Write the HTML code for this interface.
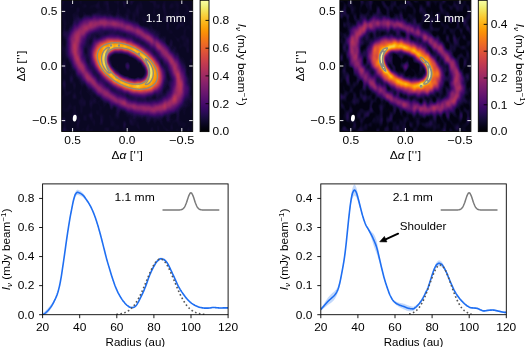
<!DOCTYPE html><html><head><meta charset="utf-8"><title>figure</title><style>html,body{margin:0;padding:0;background:#fff;overflow:hidden}svg{display:block;will-change:transform}text{font-family:"Liberation Sans", sans-serif}</style></head><body>
<svg width="525" height="347" viewBox="0 0 525 347">
<defs>
<filter id="cm0" filterUnits="userSpaceOnUse" x="51.70" y="-9.50" width="151.00" height="151.00" color-interpolation-filters="sRGB">
<feGaussianBlur in="SourceGraphic" stdDeviation="1.60 2.80" result="b"/>
<feTurbulence type="fractalNoise" baseFrequency="0.3 0.22" numOctaves="1" seed="4" result="n"/>
<feColorMatrix in="n" type="matrix" values="1 0 0 0 0 1 0 0 0 0 1 0 0 0 0 0 0 0 0 1" result="ng"/>
<feGaussianBlur in="ng" stdDeviation="1.28 2.24" result="nb"/>
<feComposite in="b" in2="nb" operator="arithmetic" k1="0" k2="2" k3="0.350" k4="-0.275" result="s"/>
<feComponentTransfer in="s"><feFuncR type="table" tableValues="0.0423 0.0516 0.0613 0.0714 0.0874 0.0987 0.1105 0.1229 0.1358 0.1491 0.1627 0.1765 0.1904 0.2111 0.2248 0.2383 0.2516 0.2648 0.2778 0.2908 0.3036 0.3163 0.3352 0.3478 0.3603 0.3728 0.3852 0.3977 0.4101 0.4288 0.4412 0.4599 0.4786 0.4910 0.5097 0.5284 0.5472 0.5596 0.5783 0.5969 0.6093 0.6278 0.6463 0.6585 0.6766 0.6946 0.7065 0.7241 0.7414 0.7584 0.7696 0.7859 0.8019 0.8122 0.8274 0.8420 0.8514 0.8650 0.8780 0.8863 0.8982 0.9094 0.9199 0.9265 0.9357 0.9443 0.9496 0.9569 0.9634 0.9673 0.9726 0.9771 0.9808 0.9829 0.9853 0.9870 0.9876 0.9879 0.9875 0.9867 0.9849 0.9822 0.9800 0.9761 0.9715 0.9662 0.9625 0.9568 0.9515 0.9487 0.9464 0.9479 0.9517 0.9618 0.9765 0.9884"/><feFuncG type="table" tableValues="0.0281 0.0325 0.0366 0.0403 0.0446 0.0464 0.0474 0.0475 0.0469 0.0455 0.0436 0.0414 0.0393 0.0370 0.0364 0.0366 0.0377 0.0396 0.0424 0.0456 0.0494 0.0535 0.0601 0.0646 0.0692 0.0739 0.0786 0.0833 0.0879 0.0948 0.0993 0.1061 0.1128 0.1172 0.1238 0.1303 0.1369 0.1413 0.1480 0.1548 0.1595 0.1666 0.1739 0.1790 0.1868 0.1950 0.2007 0.2097 0.2191 0.2291 0.2361 0.2471 0.2587 0.2668 0.2795 0.2929 0.3023 0.3168 0.3321 0.3426 0.3589 0.3759 0.3934 0.4054 0.4238 0.4428 0.4557 0.4754 0.4955 0.5091 0.5298 0.5508 0.5722 0.5866 0.6084 0.6305 0.6453 0.6677 0.6904 0.7055 0.7284 0.7514 0.7668 0.7900 0.8131 0.8362 0.8515 0.8741 0.8962 0.9105 0.9308 0.9493 0.9606 0.9759 0.9898 0.9984"/><feFuncB type="table" tableValues="0.1411 0.1593 0.1776 0.1964 0.2248 0.2439 0.2629 0.2816 0.2998 0.3171 0.3333 0.3481 0.3614 0.3786 0.3881 0.3964 0.4034 0.4093 0.4144 0.4186 0.4222 0.4251 0.4285 0.4302 0.4315 0.4324 0.4330 0.4332 0.4331 0.4324 0.4316 0.4298 0.4275 0.4256 0.4222 0.4181 0.4135 0.4101 0.4044 0.3981 0.3936 0.3863 0.3784 0.3727 0.3638 0.3544 0.3478 0.3374 0.3266 0.3153 0.3075 0.2955 0.2831 0.2747 0.2617 0.2486 0.2396 0.2261 0.2123 0.2030 0.1889 0.1746 0.1601 0.1503 0.1354 0.1204 0.1102 0.0947 0.0791 0.0687 0.0533 0.0391 0.0285 0.0247 0.0242 0.0309 0.0399 0.0583 0.0800 0.0957 0.1208 0.1476 0.1664 0.1960 0.2277 0.2615 0.2855 0.3240 0.3656 0.3953 0.4424 0.4914 0.5242 0.5719 0.6168 0.6449"/></feComponentTransfer>
</filter>
<clipPath id="ic0"><rect x="61.70" y="0.50" width="131.00" height="131.00"/></clipPath>
<filter id="cm1" filterUnits="userSpaceOnUse" x="329.90" y="-9.50" width="151.00" height="151.00" color-interpolation-filters="sRGB">
<feGaussianBlur in="SourceGraphic" stdDeviation="1.60 2.80" result="b"/>
<feTurbulence type="fractalNoise" baseFrequency="0.3 0.22" numOctaves="1" seed="7" result="n"/>
<feColorMatrix in="n" type="matrix" values="1 0 0 0 0 1 0 0 0 0 1 0 0 0 0 0 0 0 0 1" result="ng"/>
<feGaussianBlur in="ng" stdDeviation="1.28 2.24" result="nb"/>
<feComposite in="b" in2="nb" operator="arithmetic" k1="0" k2="2" k3="0.750" k4="-0.455" result="s"/>
<feComponentTransfer in="s"><feFuncR type="table" tableValues="0.0140 0.0224 0.0294 0.0423 0.0516 0.0613 0.0766 0.0874 0.1046 0.1167 0.1293 0.1491 0.1627 0.1765 0.1973 0.2111 0.2315 0.2450 0.2582 0.2778 0.2908 0.3036 0.3226 0.3352 0.3540 0.3665 0.3790 0.3977 0.4101 0.4288 0.4412 0.4599 0.4786 0.4910 0.5097 0.5284 0.5472 0.5596 0.5783 0.5969 0.6093 0.6278 0.6463 0.6585 0.6766 0.6946 0.7065 0.7241 0.7414 0.7584 0.7696 0.7859 0.8019 0.8122 0.8274 0.8420 0.8514 0.8650 0.8780 0.8863 0.8982 0.9094 0.9199 0.9265 0.9357 0.9443 0.9496 0.9569 0.9634 0.9673 0.9726 0.9771 0.9808 0.9829 0.9853 0.9870 0.9876 0.9879 0.9875 0.9867 0.9849 0.9822 0.9800 0.9761 0.9715 0.9662 0.9625 0.9568 0.9515 0.9487 0.9464 0.9479 0.9517 0.9618 0.9765 0.9884"/><feFuncG type="table" tableValues="0.0112 0.0172 0.0215 0.0281 0.0325 0.0366 0.0419 0.0446 0.0470 0.0476 0.0473 0.0455 0.0436 0.0414 0.0384 0.0370 0.0364 0.0371 0.0386 0.0424 0.0456 0.0494 0.0556 0.0601 0.0669 0.0716 0.0763 0.0833 0.0879 0.0948 0.0993 0.1061 0.1128 0.1172 0.1238 0.1303 0.1369 0.1413 0.1480 0.1548 0.1595 0.1666 0.1739 0.1790 0.1868 0.1950 0.2007 0.2097 0.2191 0.2291 0.2361 0.2471 0.2587 0.2668 0.2795 0.2929 0.3023 0.3168 0.3321 0.3426 0.3589 0.3759 0.3934 0.4054 0.4238 0.4428 0.4557 0.4754 0.4955 0.5091 0.5298 0.5508 0.5722 0.5866 0.6084 0.6305 0.6453 0.6677 0.6904 0.7055 0.7284 0.7514 0.7668 0.7900 0.8131 0.8362 0.8515 0.8741 0.8962 0.9105 0.9308 0.9493 0.9606 0.9759 0.9898 0.9984"/><feFuncB type="table" tableValues="0.0719 0.0973 0.1146 0.1411 0.1593 0.1776 0.2058 0.2248 0.2534 0.2723 0.2908 0.3171 0.3333 0.3481 0.3675 0.3786 0.3924 0.4000 0.4065 0.4144 0.4186 0.4222 0.4264 0.4285 0.4309 0.4320 0.4327 0.4332 0.4331 0.4324 0.4316 0.4298 0.4275 0.4256 0.4222 0.4181 0.4135 0.4101 0.4044 0.3981 0.3936 0.3863 0.3784 0.3727 0.3638 0.3544 0.3478 0.3374 0.3266 0.3153 0.3075 0.2955 0.2831 0.2747 0.2617 0.2486 0.2396 0.2261 0.2123 0.2030 0.1889 0.1746 0.1601 0.1503 0.1354 0.1204 0.1102 0.0947 0.0791 0.0687 0.0533 0.0391 0.0285 0.0247 0.0242 0.0309 0.0399 0.0583 0.0800 0.0957 0.1208 0.1476 0.1664 0.1960 0.2277 0.2615 0.2855 0.3240 0.3656 0.3953 0.4424 0.4914 0.5242 0.5719 0.6168 0.6449"/></feComponentTransfer>
</filter>
<clipPath id="ic1"><rect x="339.90" y="0.50" width="131.00" height="131.00"/></clipPath>
<radialGradient id="rg0" gradientUnits="userSpaceOnUse" cx="0" cy="0" r="90.00"><stop offset="0.0000" stop-color="#0d0d0d"/><stop offset="0.0050" stop-color="#0d0d0d"/><stop offset="0.0101" stop-color="#0d0d0d"/><stop offset="0.0151" stop-color="#0d0d0d"/><stop offset="0.0201" stop-color="#0d0d0d"/><stop offset="0.0251" stop-color="#0d0d0d"/><stop offset="0.0302" stop-color="#0d0d0d"/><stop offset="0.0352" stop-color="#0d0d0d"/><stop offset="0.0402" stop-color="#0d0d0d"/><stop offset="0.0452" stop-color="#0d0d0d"/><stop offset="0.0503" stop-color="#0d0d0d"/><stop offset="0.0553" stop-color="#0d0d0d"/><stop offset="0.0603" stop-color="#0d0d0d"/><stop offset="0.0653" stop-color="#0d0d0d"/><stop offset="0.0704" stop-color="#0d0d0d"/><stop offset="0.0754" stop-color="#0d0d0d"/><stop offset="0.0804" stop-color="#0d0d0d"/><stop offset="0.0854" stop-color="#0d0d0d"/><stop offset="0.0905" stop-color="#0d0d0d"/><stop offset="0.0955" stop-color="#0d0d0d"/><stop offset="0.1005" stop-color="#0d0d0d"/><stop offset="0.1055" stop-color="#0d0d0d"/><stop offset="0.1106" stop-color="#0d0d0d"/><stop offset="0.1156" stop-color="#0d0d0d"/><stop offset="0.1206" stop-color="#0d0d0d"/><stop offset="0.1256" stop-color="#0d0d0d"/><stop offset="0.1307" stop-color="#0d0d0d"/><stop offset="0.1357" stop-color="#0d0d0d"/><stop offset="0.1407" stop-color="#0d0d0d"/><stop offset="0.1457" stop-color="#0d0d0d"/><stop offset="0.1508" stop-color="#0d0d0d"/><stop offset="0.1558" stop-color="#0d0d0d"/><stop offset="0.1608" stop-color="#0d0d0d"/><stop offset="0.1658" stop-color="#0d0d0d"/><stop offset="0.1709" stop-color="#0d0d0d"/><stop offset="0.1759" stop-color="#0d0d0d"/><stop offset="0.1809" stop-color="#0d0d0d"/><stop offset="0.1859" stop-color="#0d0d0d"/><stop offset="0.1910" stop-color="#0d0d0d"/><stop offset="0.1960" stop-color="#0d0d0d"/><stop offset="0.2010" stop-color="#0d0d0d"/><stop offset="0.2060" stop-color="#0d0d0d"/><stop offset="0.2111" stop-color="#0d0d0d"/><stop offset="0.2161" stop-color="#0d0d0d"/><stop offset="0.2211" stop-color="#0d0d0d"/><stop offset="0.2261" stop-color="#0d0d0d"/><stop offset="0.2312" stop-color="#0d0d0d"/><stop offset="0.2362" stop-color="#0d0d0d"/><stop offset="0.2412" stop-color="#0d0d0d"/><stop offset="0.2462" stop-color="#0d0d0d"/><stop offset="0.2513" stop-color="#0d0d0d"/><stop offset="0.2563" stop-color="#0d0d0d"/><stop offset="0.2613" stop-color="#0d0d0d"/><stop offset="0.2663" stop-color="#0d0d0d"/><stop offset="0.2714" stop-color="#0d0d0d"/><stop offset="0.2764" stop-color="#0d0d0d"/><stop offset="0.2814" stop-color="#0d0d0d"/><stop offset="0.2864" stop-color="#0d0d0d"/><stop offset="0.2915" stop-color="#0d0d0d"/><stop offset="0.2965" stop-color="#0d0d0d"/><stop offset="0.3015" stop-color="#0d0d0d"/><stop offset="0.3065" stop-color="#0d0d0d"/><stop offset="0.3116" stop-color="#0d0d0d"/><stop offset="0.3166" stop-color="#0d0d0d"/><stop offset="0.3216" stop-color="#0d0d0d"/><stop offset="0.3266" stop-color="#0d0d0d"/><stop offset="0.3317" stop-color="#0d0d0d"/><stop offset="0.3367" stop-color="#0d0d0d"/><stop offset="0.3417" stop-color="#0d0d0d"/><stop offset="0.3467" stop-color="#0d0d0d"/><stop offset="0.3518" stop-color="#0d0d0d"/><stop offset="0.3568" stop-color="#0d0d0d"/><stop offset="0.3618" stop-color="#0d0d0d"/><stop offset="0.3668" stop-color="#0d0d0d"/><stop offset="0.3719" stop-color="#0d0d0d"/><stop offset="0.3769" stop-color="#0d0d0d"/><stop offset="0.3819" stop-color="#0d0d0d"/><stop offset="0.3869" stop-color="#0d0d0d"/><stop offset="0.3920" stop-color="#0d0d0d"/><stop offset="0.3970" stop-color="#0d0d0d"/><stop offset="0.4020" stop-color="#0d0d0d"/><stop offset="0.4070" stop-color="#0d0d0d"/><stop offset="0.4121" stop-color="#0d0d0d"/><stop offset="0.4171" stop-color="#0d0d0d"/><stop offset="0.4221" stop-color="#0d0d0d"/><stop offset="0.4271" stop-color="#0d0d0d"/><stop offset="0.4322" stop-color="#0d0d0d"/><stop offset="0.4372" stop-color="#0d0d0d"/><stop offset="0.4422" stop-color="#0d0d0d"/><stop offset="0.4472" stop-color="#0d0d0d"/><stop offset="0.4523" stop-color="#0d0d0d"/><stop offset="0.4573" stop-color="#0d0d0d"/><stop offset="0.4623" stop-color="#0d0d0d"/><stop offset="0.4673" stop-color="#0d0d0d"/><stop offset="0.4724" stop-color="#0d0d0d"/><stop offset="0.4774" stop-color="#0d0d0d"/><stop offset="0.4824" stop-color="#0e0e0e"/><stop offset="0.4874" stop-color="#0e0e0e"/><stop offset="0.4925" stop-color="#0e0e0e"/><stop offset="0.4975" stop-color="#0e0e0e"/><stop offset="0.5025" stop-color="#0f0f0f"/><stop offset="0.5075" stop-color="#0f0f0f"/><stop offset="0.5126" stop-color="#101010"/><stop offset="0.5176" stop-color="#111111"/><stop offset="0.5226" stop-color="#121212"/><stop offset="0.5276" stop-color="#131313"/><stop offset="0.5327" stop-color="#141414"/><stop offset="0.5377" stop-color="#161616"/><stop offset="0.5427" stop-color="#171717"/><stop offset="0.5477" stop-color="#191919"/><stop offset="0.5528" stop-color="#1b1b1b"/><stop offset="0.5578" stop-color="#1e1e1e"/><stop offset="0.5628" stop-color="#202020"/><stop offset="0.5678" stop-color="#232323"/><stop offset="0.5729" stop-color="#262626"/><stop offset="0.5779" stop-color="#292929"/><stop offset="0.5829" stop-color="#2c2c2c"/><stop offset="0.5879" stop-color="#303030"/><stop offset="0.5930" stop-color="#333333"/><stop offset="0.5980" stop-color="#363636"/><stop offset="0.6030" stop-color="#3a3a3a"/><stop offset="0.6080" stop-color="#3d3d3d"/><stop offset="0.6131" stop-color="#404040"/><stop offset="0.6181" stop-color="#424242"/><stop offset="0.6231" stop-color="#454545"/><stop offset="0.6281" stop-color="#474747"/><stop offset="0.6332" stop-color="#484848"/><stop offset="0.6382" stop-color="#494949"/><stop offset="0.6432" stop-color="#4a4a4a"/><stop offset="0.6482" stop-color="#4a4a4a"/><stop offset="0.6533" stop-color="#4a4a4a"/><stop offset="0.6583" stop-color="#494949"/><stop offset="0.6633" stop-color="#474747"/><stop offset="0.6683" stop-color="#464646"/><stop offset="0.6734" stop-color="#434343"/><stop offset="0.6784" stop-color="#414141"/><stop offset="0.6834" stop-color="#3e3e3e"/><stop offset="0.6884" stop-color="#3b3b3b"/><stop offset="0.6935" stop-color="#383838"/><stop offset="0.6985" stop-color="#343434"/><stop offset="0.7035" stop-color="#313131"/><stop offset="0.7085" stop-color="#2e2e2e"/><stop offset="0.7136" stop-color="#2a2a2a"/><stop offset="0.7186" stop-color="#272727"/><stop offset="0.7236" stop-color="#242424"/><stop offset="0.7286" stop-color="#212121"/><stop offset="0.7337" stop-color="#1f1f1f"/><stop offset="0.7387" stop-color="#1c1c1c"/><stop offset="0.7437" stop-color="#1a1a1a"/><stop offset="0.7487" stop-color="#181818"/><stop offset="0.7538" stop-color="#161616"/><stop offset="0.7588" stop-color="#151515"/><stop offset="0.7638" stop-color="#131313"/><stop offset="0.7688" stop-color="#121212"/><stop offset="0.7739" stop-color="#111111"/><stop offset="0.7789" stop-color="#101010"/><stop offset="0.7839" stop-color="#101010"/><stop offset="0.7889" stop-color="#0f0f0f"/><stop offset="0.7940" stop-color="#0f0f0f"/><stop offset="0.7990" stop-color="#0e0e0e"/><stop offset="0.8040" stop-color="#0e0e0e"/><stop offset="0.8090" stop-color="#0e0e0e"/><stop offset="0.8141" stop-color="#0d0d0d"/><stop offset="0.8191" stop-color="#0d0d0d"/><stop offset="0.8241" stop-color="#0d0d0d"/><stop offset="0.8291" stop-color="#0d0d0d"/><stop offset="0.8342" stop-color="#0d0d0d"/><stop offset="0.8392" stop-color="#0d0d0d"/><stop offset="0.8442" stop-color="#0d0d0d"/><stop offset="0.8492" stop-color="#0d0d0d"/><stop offset="0.8543" stop-color="#0d0d0d"/><stop offset="0.8593" stop-color="#0d0d0d"/><stop offset="0.8643" stop-color="#0d0d0d"/><stop offset="0.8693" stop-color="#0d0d0d"/><stop offset="0.8744" stop-color="#0d0d0d"/><stop offset="0.8794" stop-color="#0d0d0d"/><stop offset="0.8844" stop-color="#0d0d0d"/><stop offset="0.8894" stop-color="#0d0d0d"/><stop offset="0.8945" stop-color="#0d0d0d"/><stop offset="0.8995" stop-color="#0d0d0d"/><stop offset="0.9045" stop-color="#0d0d0d"/><stop offset="0.9095" stop-color="#0d0d0d"/><stop offset="0.9146" stop-color="#0d0d0d"/><stop offset="0.9196" stop-color="#0d0d0d"/><stop offset="0.9246" stop-color="#0d0d0d"/><stop offset="0.9296" stop-color="#0d0d0d"/><stop offset="0.9347" stop-color="#0d0d0d"/><stop offset="0.9397" stop-color="#0d0d0d"/><stop offset="0.9447" stop-color="#0d0d0d"/><stop offset="0.9497" stop-color="#0d0d0d"/><stop offset="0.9548" stop-color="#0d0d0d"/><stop offset="0.9598" stop-color="#0d0d0d"/><stop offset="0.9648" stop-color="#0d0d0d"/><stop offset="0.9698" stop-color="#0d0d0d"/><stop offset="0.9749" stop-color="#0d0d0d"/><stop offset="0.9799" stop-color="#0d0d0d"/><stop offset="0.9849" stop-color="#0d0d0d"/><stop offset="0.9899" stop-color="#0d0d0d"/><stop offset="0.9950" stop-color="#0d0d0d"/><stop offset="1.0000" stop-color="#0d0d0d"/></radialGradient><radialGradient id="rg0i" gradientUnits="userSpaceOnUse" cx="0" cy="0" r="46.00"><stop offset="0.0000" stop-color="#060606" stop-opacity="1.000"/><stop offset="0.0042" stop-color="#060606" stop-opacity="1.000"/><stop offset="0.0084" stop-color="#060606" stop-opacity="1.000"/><stop offset="0.0126" stop-color="#060606" stop-opacity="1.000"/><stop offset="0.0167" stop-color="#060606" stop-opacity="1.000"/><stop offset="0.0209" stop-color="#060606" stop-opacity="1.000"/><stop offset="0.0251" stop-color="#060606" stop-opacity="1.000"/><stop offset="0.0293" stop-color="#060606" stop-opacity="1.000"/><stop offset="0.0335" stop-color="#060606" stop-opacity="1.000"/><stop offset="0.0377" stop-color="#060606" stop-opacity="1.000"/><stop offset="0.0418" stop-color="#060606" stop-opacity="1.000"/><stop offset="0.0460" stop-color="#060606" stop-opacity="1.000"/><stop offset="0.0502" stop-color="#060606" stop-opacity="1.000"/><stop offset="0.0544" stop-color="#060606" stop-opacity="1.000"/><stop offset="0.0586" stop-color="#060606" stop-opacity="1.000"/><stop offset="0.0628" stop-color="#060606" stop-opacity="1.000"/><stop offset="0.0669" stop-color="#060606" stop-opacity="1.000"/><stop offset="0.0711" stop-color="#060606" stop-opacity="1.000"/><stop offset="0.0753" stop-color="#060606" stop-opacity="1.000"/><stop offset="0.0795" stop-color="#060606" stop-opacity="1.000"/><stop offset="0.0837" stop-color="#060606" stop-opacity="1.000"/><stop offset="0.0879" stop-color="#060606" stop-opacity="1.000"/><stop offset="0.0921" stop-color="#060606" stop-opacity="1.000"/><stop offset="0.0962" stop-color="#060606" stop-opacity="1.000"/><stop offset="0.1004" stop-color="#060606" stop-opacity="1.000"/><stop offset="0.1046" stop-color="#060606" stop-opacity="1.000"/><stop offset="0.1088" stop-color="#060606" stop-opacity="1.000"/><stop offset="0.1130" stop-color="#060606" stop-opacity="1.000"/><stop offset="0.1172" stop-color="#060606" stop-opacity="1.000"/><stop offset="0.1213" stop-color="#060606" stop-opacity="1.000"/><stop offset="0.1255" stop-color="#060606" stop-opacity="1.000"/><stop offset="0.1297" stop-color="#060606" stop-opacity="1.000"/><stop offset="0.1339" stop-color="#060606" stop-opacity="1.000"/><stop offset="0.1381" stop-color="#060606" stop-opacity="1.000"/><stop offset="0.1423" stop-color="#060606" stop-opacity="1.000"/><stop offset="0.1464" stop-color="#060606" stop-opacity="1.000"/><stop offset="0.1506" stop-color="#060606" stop-opacity="1.000"/><stop offset="0.1548" stop-color="#060606" stop-opacity="1.000"/><stop offset="0.1590" stop-color="#060606" stop-opacity="1.000"/><stop offset="0.1632" stop-color="#060606" stop-opacity="1.000"/><stop offset="0.1674" stop-color="#060606" stop-opacity="1.000"/><stop offset="0.1715" stop-color="#060606" stop-opacity="1.000"/><stop offset="0.1757" stop-color="#060606" stop-opacity="1.000"/><stop offset="0.1799" stop-color="#060606" stop-opacity="1.000"/><stop offset="0.1841" stop-color="#060606" stop-opacity="1.000"/><stop offset="0.1883" stop-color="#060606" stop-opacity="1.000"/><stop offset="0.1925" stop-color="#060606" stop-opacity="1.000"/><stop offset="0.1967" stop-color="#060606" stop-opacity="1.000"/><stop offset="0.2008" stop-color="#060606" stop-opacity="1.000"/><stop offset="0.2050" stop-color="#060606" stop-opacity="1.000"/><stop offset="0.2092" stop-color="#060606" stop-opacity="1.000"/><stop offset="0.2134" stop-color="#060606" stop-opacity="1.000"/><stop offset="0.2176" stop-color="#060606" stop-opacity="1.000"/><stop offset="0.2218" stop-color="#060606" stop-opacity="1.000"/><stop offset="0.2259" stop-color="#060606" stop-opacity="1.000"/><stop offset="0.2301" stop-color="#060606" stop-opacity="1.000"/><stop offset="0.2343" stop-color="#060606" stop-opacity="1.000"/><stop offset="0.2385" stop-color="#060606" stop-opacity="1.000"/><stop offset="0.2427" stop-color="#070707" stop-opacity="1.000"/><stop offset="0.2469" stop-color="#070707" stop-opacity="1.000"/><stop offset="0.2510" stop-color="#070707" stop-opacity="1.000"/><stop offset="0.2552" stop-color="#070707" stop-opacity="1.000"/><stop offset="0.2594" stop-color="#070707" stop-opacity="1.000"/><stop offset="0.2636" stop-color="#070707" stop-opacity="1.000"/><stop offset="0.2678" stop-color="#070707" stop-opacity="1.000"/><stop offset="0.2720" stop-color="#070707" stop-opacity="1.000"/><stop offset="0.2762" stop-color="#070707" stop-opacity="1.000"/><stop offset="0.2803" stop-color="#070707" stop-opacity="1.000"/><stop offset="0.2845" stop-color="#070707" stop-opacity="1.000"/><stop offset="0.2887" stop-color="#070707" stop-opacity="1.000"/><stop offset="0.2929" stop-color="#070707" stop-opacity="1.000"/><stop offset="0.2971" stop-color="#070707" stop-opacity="1.000"/><stop offset="0.3013" stop-color="#070707" stop-opacity="1.000"/><stop offset="0.3054" stop-color="#070707" stop-opacity="1.000"/><stop offset="0.3096" stop-color="#080808" stop-opacity="1.000"/><stop offset="0.3138" stop-color="#080808" stop-opacity="1.000"/><stop offset="0.3180" stop-color="#080808" stop-opacity="1.000"/><stop offset="0.3222" stop-color="#080808" stop-opacity="1.000"/><stop offset="0.3264" stop-color="#080808" stop-opacity="1.000"/><stop offset="0.3305" stop-color="#090909" stop-opacity="1.000"/><stop offset="0.3347" stop-color="#090909" stop-opacity="1.000"/><stop offset="0.3389" stop-color="#090909" stop-opacity="1.000"/><stop offset="0.3431" stop-color="#090909" stop-opacity="1.000"/><stop offset="0.3473" stop-color="#0a0a0a" stop-opacity="1.000"/><stop offset="0.3515" stop-color="#0a0a0a" stop-opacity="1.000"/><stop offset="0.3556" stop-color="#0a0a0a" stop-opacity="1.000"/><stop offset="0.3598" stop-color="#0a0a0a" stop-opacity="1.000"/><stop offset="0.3640" stop-color="#0b0b0b" stop-opacity="1.000"/><stop offset="0.3682" stop-color="#0b0b0b" stop-opacity="1.000"/><stop offset="0.3724" stop-color="#0b0b0b" stop-opacity="1.000"/><stop offset="0.3766" stop-color="#0b0b0b" stop-opacity="1.000"/><stop offset="0.3808" stop-color="#0b0b0b" stop-opacity="1.000"/><stop offset="0.3849" stop-color="#0c0c0c" stop-opacity="1.000"/><stop offset="0.3891" stop-color="#0c0c0c" stop-opacity="1.000"/><stop offset="0.3933" stop-color="#0c0c0c" stop-opacity="1.000"/><stop offset="0.3975" stop-color="#0c0c0c" stop-opacity="1.000"/><stop offset="0.4017" stop-color="#0c0c0c" stop-opacity="1.000"/><stop offset="0.4059" stop-color="#0c0c0c" stop-opacity="1.000"/><stop offset="0.4100" stop-color="#0d0d0d" stop-opacity="1.000"/><stop offset="0.4142" stop-color="#0d0d0d" stop-opacity="1.000"/><stop offset="0.4184" stop-color="#0d0d0d" stop-opacity="1.000"/><stop offset="0.4226" stop-color="#0d0d0d" stop-opacity="1.000"/><stop offset="0.4268" stop-color="#0d0d0d" stop-opacity="1.000"/><stop offset="0.4310" stop-color="#0e0e0e" stop-opacity="1.000"/><stop offset="0.4351" stop-color="#0e0e0e" stop-opacity="1.000"/><stop offset="0.4393" stop-color="#0e0e0e" stop-opacity="1.000"/><stop offset="0.4435" stop-color="#0f0f0f" stop-opacity="1.000"/><stop offset="0.4477" stop-color="#101010" stop-opacity="1.000"/><stop offset="0.4519" stop-color="#111111" stop-opacity="1.000"/><stop offset="0.4561" stop-color="#131313" stop-opacity="1.000"/><stop offset="0.4603" stop-color="#161616" stop-opacity="1.000"/><stop offset="0.4644" stop-color="#1a1a1a" stop-opacity="1.000"/><stop offset="0.4686" stop-color="#1f1f1f" stop-opacity="1.000"/><stop offset="0.4728" stop-color="#262626" stop-opacity="1.000"/><stop offset="0.4770" stop-color="#2e2e2e" stop-opacity="1.000"/><stop offset="0.4812" stop-color="#393939" stop-opacity="1.000"/><stop offset="0.4854" stop-color="#464646" stop-opacity="1.000"/><stop offset="0.4895" stop-color="#545454" stop-opacity="1.000"/><stop offset="0.4937" stop-color="#636363" stop-opacity="1.000"/><stop offset="0.4979" stop-color="#737373" stop-opacity="1.000"/><stop offset="0.5021" stop-color="#818181" stop-opacity="1.000"/><stop offset="0.5063" stop-color="#8d8d8d" stop-opacity="1.000"/><stop offset="0.5105" stop-color="#969696" stop-opacity="1.000"/><stop offset="0.5146" stop-color="#9b9b9b" stop-opacity="1.000"/><stop offset="0.5188" stop-color="#9d9d9d" stop-opacity="1.000"/><stop offset="0.5230" stop-color="#9e9e9e" stop-opacity="1.000"/><stop offset="0.5272" stop-color="#9d9d9d" stop-opacity="1.000"/><stop offset="0.5314" stop-color="#9c9c9c" stop-opacity="1.000"/><stop offset="0.5356" stop-color="#9b9b9b" stop-opacity="1.000"/><stop offset="0.5397" stop-color="#989898" stop-opacity="1.000"/><stop offset="0.5439" stop-color="#959595" stop-opacity="1.000"/><stop offset="0.5481" stop-color="#929292" stop-opacity="1.000"/><stop offset="0.5523" stop-color="#8f8f8f" stop-opacity="1.000"/><stop offset="0.5565" stop-color="#8c8c8c" stop-opacity="1.000"/><stop offset="0.5607" stop-color="#898989" stop-opacity="1.000"/><stop offset="0.5649" stop-color="#868686" stop-opacity="1.000"/><stop offset="0.5690" stop-color="#848484" stop-opacity="1.000"/><stop offset="0.5732" stop-color="#828282" stop-opacity="1.000"/><stop offset="0.5774" stop-color="#808080" stop-opacity="1.000"/><stop offset="0.5816" stop-color="#7e7e7e" stop-opacity="1.000"/><stop offset="0.5858" stop-color="#7d7d7d" stop-opacity="1.000"/><stop offset="0.5900" stop-color="#7c7c7c" stop-opacity="1.000"/><stop offset="0.5941" stop-color="#7c7c7c" stop-opacity="1.000"/><stop offset="0.5983" stop-color="#7b7b7b" stop-opacity="1.000"/><stop offset="0.6025" stop-color="#7a7a7a" stop-opacity="1.000"/><stop offset="0.6067" stop-color="#7a7a7a" stop-opacity="1.000"/><stop offset="0.6109" stop-color="#7a7a7a" stop-opacity="1.000"/><stop offset="0.6151" stop-color="#797979" stop-opacity="1.000"/><stop offset="0.6192" stop-color="#797979" stop-opacity="1.000"/><stop offset="0.6234" stop-color="#797979" stop-opacity="1.000"/><stop offset="0.6276" stop-color="#787878" stop-opacity="1.000"/><stop offset="0.6318" stop-color="#787878" stop-opacity="1.000"/><stop offset="0.6360" stop-color="#787878" stop-opacity="1.000"/><stop offset="0.6402" stop-color="#787878" stop-opacity="1.000"/><stop offset="0.6444" stop-color="#777777" stop-opacity="1.000"/><stop offset="0.6485" stop-color="#777777" stop-opacity="1.000"/><stop offset="0.6527" stop-color="#767676" stop-opacity="1.000"/><stop offset="0.6569" stop-color="#767676" stop-opacity="1.000"/><stop offset="0.6611" stop-color="#767676" stop-opacity="1.000"/><stop offset="0.6653" stop-color="#757575" stop-opacity="1.000"/><stop offset="0.6695" stop-color="#747474" stop-opacity="1.000"/><stop offset="0.6736" stop-color="#747474" stop-opacity="1.000"/><stop offset="0.6778" stop-color="#737373" stop-opacity="1.000"/><stop offset="0.6820" stop-color="#737373" stop-opacity="1.000"/><stop offset="0.6862" stop-color="#727272" stop-opacity="1.000"/><stop offset="0.6904" stop-color="#717171" stop-opacity="1.000"/><stop offset="0.6946" stop-color="#707070" stop-opacity="1.000"/><stop offset="0.6987" stop-color="#6f6f6f" stop-opacity="1.000"/><stop offset="0.7029" stop-color="#6e6e6e" stop-opacity="1.000"/><stop offset="0.7071" stop-color="#6d6d6d" stop-opacity="1.000"/><stop offset="0.7113" stop-color="#6c6c6c" stop-opacity="1.000"/><stop offset="0.7155" stop-color="#6b6b6b" stop-opacity="1.000"/><stop offset="0.7197" stop-color="#6a6a6a" stop-opacity="1.000"/><stop offset="0.7238" stop-color="#686868" stop-opacity="1.000"/><stop offset="0.7280" stop-color="#676767" stop-opacity="1.000"/><stop offset="0.7322" stop-color="#666666" stop-opacity="1.000"/><stop offset="0.7364" stop-color="#646464" stop-opacity="1.000"/><stop offset="0.7406" stop-color="#636363" stop-opacity="1.000"/><stop offset="0.7448" stop-color="#616161" stop-opacity="1.000"/><stop offset="0.7490" stop-color="#5f5f5f" stop-opacity="1.000"/><stop offset="0.7531" stop-color="#5d5d5d" stop-opacity="1.000"/><stop offset="0.7573" stop-color="#5c5c5c" stop-opacity="1.000"/><stop offset="0.7615" stop-color="#5a5a5a" stop-opacity="1.000"/><stop offset="0.7657" stop-color="#585858" stop-opacity="1.000"/><stop offset="0.7699" stop-color="#565656" stop-opacity="1.000"/><stop offset="0.7741" stop-color="#545454" stop-opacity="1.000"/><stop offset="0.7782" stop-color="#525252" stop-opacity="1.000"/><stop offset="0.7824" stop-color="#4f4f4f" stop-opacity="1.000"/><stop offset="0.7866" stop-color="#4d4d4d" stop-opacity="1.000"/><stop offset="0.7908" stop-color="#4b4b4b" stop-opacity="1.000"/><stop offset="0.7950" stop-color="#494949" stop-opacity="1.000"/><stop offset="0.7992" stop-color="#474747" stop-opacity="1.000"/><stop offset="0.8033" stop-color="#454545" stop-opacity="1.000"/><stop offset="0.8075" stop-color="#434343" stop-opacity="0.984"/><stop offset="0.8117" stop-color="#404040" stop-opacity="0.962"/><stop offset="0.8159" stop-color="#3e3e3e" stop-opacity="0.941"/><stop offset="0.8201" stop-color="#3c3c3c" stop-opacity="0.920"/><stop offset="0.8243" stop-color="#3a3a3a" stop-opacity="0.898"/><stop offset="0.8285" stop-color="#383838" stop-opacity="0.877"/><stop offset="0.8326" stop-color="#363636" stop-opacity="0.855"/><stop offset="0.8368" stop-color="#343434" stop-opacity="0.834"/><stop offset="0.8410" stop-color="#323232" stop-opacity="0.813"/><stop offset="0.8452" stop-color="#303030" stop-opacity="0.791"/><stop offset="0.8494" stop-color="#2e2e2e" stop-opacity="0.770"/><stop offset="0.8536" stop-color="#2c2c2c" stop-opacity="0.748"/><stop offset="0.8577" stop-color="#2a2a2a" stop-opacity="0.727"/><stop offset="0.8619" stop-color="#292929" stop-opacity="0.706"/><stop offset="0.8661" stop-color="#272727" stop-opacity="0.684"/><stop offset="0.8703" stop-color="#252525" stop-opacity="0.663"/><stop offset="0.8745" stop-color="#242424" stop-opacity="0.642"/><stop offset="0.8787" stop-color="#222222" stop-opacity="0.620"/><stop offset="0.8828" stop-color="#212121" stop-opacity="0.599"/><stop offset="0.8870" stop-color="#1f1f1f" stop-opacity="0.577"/><stop offset="0.8912" stop-color="#1e1e1e" stop-opacity="0.556"/><stop offset="0.8954" stop-color="#1d1d1d" stop-opacity="0.535"/><stop offset="0.8996" stop-color="#1c1c1c" stop-opacity="0.513"/><stop offset="0.9038" stop-color="#1b1b1b" stop-opacity="0.492"/><stop offset="0.9079" stop-color="#1a1a1a" stop-opacity="0.470"/><stop offset="0.9121" stop-color="#191919" stop-opacity="0.449"/><stop offset="0.9163" stop-color="#181818" stop-opacity="0.428"/><stop offset="0.9205" stop-color="#171717" stop-opacity="0.406"/><stop offset="0.9247" stop-color="#161616" stop-opacity="0.385"/><stop offset="0.9289" stop-color="#151515" stop-opacity="0.364"/><stop offset="0.9331" stop-color="#141414" stop-opacity="0.342"/><stop offset="0.9372" stop-color="#141414" stop-opacity="0.321"/><stop offset="0.9414" stop-color="#131313" stop-opacity="0.299"/><stop offset="0.9456" stop-color="#131313" stop-opacity="0.278"/><stop offset="0.9498" stop-color="#121212" stop-opacity="0.257"/><stop offset="0.9540" stop-color="#121212" stop-opacity="0.235"/><stop offset="0.9582" stop-color="#111111" stop-opacity="0.214"/><stop offset="0.9623" stop-color="#111111" stop-opacity="0.192"/><stop offset="0.9665" stop-color="#101010" stop-opacity="0.171"/><stop offset="0.9707" stop-color="#101010" stop-opacity="0.150"/><stop offset="0.9749" stop-color="#101010" stop-opacity="0.128"/><stop offset="0.9791" stop-color="#0f0f0f" stop-opacity="0.107"/><stop offset="0.9833" stop-color="#0f0f0f" stop-opacity="0.086"/><stop offset="0.9874" stop-color="#0f0f0f" stop-opacity="0.064"/><stop offset="0.9916" stop-color="#0f0f0f" stop-opacity="0.043"/><stop offset="0.9958" stop-color="#0e0e0e" stop-opacity="0.021"/><stop offset="1.0000" stop-color="#0e0e0e" stop-opacity="0.000"/></radialGradient>
<radialGradient id="rg1" gradientUnits="userSpaceOnUse" cx="0" cy="0" r="90.00"><stop offset="0.0000" stop-color="#0d0d0d"/><stop offset="0.0050" stop-color="#0d0d0d"/><stop offset="0.0101" stop-color="#0d0d0d"/><stop offset="0.0151" stop-color="#0d0d0d"/><stop offset="0.0201" stop-color="#0d0d0d"/><stop offset="0.0251" stop-color="#0d0d0d"/><stop offset="0.0302" stop-color="#0d0d0d"/><stop offset="0.0352" stop-color="#0d0d0d"/><stop offset="0.0402" stop-color="#0d0d0d"/><stop offset="0.0452" stop-color="#0d0d0d"/><stop offset="0.0503" stop-color="#0d0d0d"/><stop offset="0.0553" stop-color="#0d0d0d"/><stop offset="0.0603" stop-color="#0d0d0d"/><stop offset="0.0653" stop-color="#0d0d0d"/><stop offset="0.0704" stop-color="#0d0d0d"/><stop offset="0.0754" stop-color="#0d0d0d"/><stop offset="0.0804" stop-color="#0d0d0d"/><stop offset="0.0854" stop-color="#0d0d0d"/><stop offset="0.0905" stop-color="#0d0d0d"/><stop offset="0.0955" stop-color="#0d0d0d"/><stop offset="0.1005" stop-color="#0d0d0d"/><stop offset="0.1055" stop-color="#0d0d0d"/><stop offset="0.1106" stop-color="#0d0d0d"/><stop offset="0.1156" stop-color="#0d0d0d"/><stop offset="0.1206" stop-color="#0d0d0d"/><stop offset="0.1256" stop-color="#0d0d0d"/><stop offset="0.1307" stop-color="#0d0d0d"/><stop offset="0.1357" stop-color="#0d0d0d"/><stop offset="0.1407" stop-color="#0d0d0d"/><stop offset="0.1457" stop-color="#0d0d0d"/><stop offset="0.1508" stop-color="#0d0d0d"/><stop offset="0.1558" stop-color="#0d0d0d"/><stop offset="0.1608" stop-color="#0d0d0d"/><stop offset="0.1658" stop-color="#0d0d0d"/><stop offset="0.1709" stop-color="#0d0d0d"/><stop offset="0.1759" stop-color="#0d0d0d"/><stop offset="0.1809" stop-color="#0d0d0d"/><stop offset="0.1859" stop-color="#0d0d0d"/><stop offset="0.1910" stop-color="#0d0d0d"/><stop offset="0.1960" stop-color="#0d0d0d"/><stop offset="0.2010" stop-color="#0d0d0d"/><stop offset="0.2060" stop-color="#0d0d0d"/><stop offset="0.2111" stop-color="#0d0d0d"/><stop offset="0.2161" stop-color="#0d0d0d"/><stop offset="0.2211" stop-color="#0d0d0d"/><stop offset="0.2261" stop-color="#0d0d0d"/><stop offset="0.2312" stop-color="#0d0d0d"/><stop offset="0.2362" stop-color="#0d0d0d"/><stop offset="0.2412" stop-color="#0d0d0d"/><stop offset="0.2462" stop-color="#0d0d0d"/><stop offset="0.2513" stop-color="#0d0d0d"/><stop offset="0.2563" stop-color="#0d0d0d"/><stop offset="0.2613" stop-color="#0d0d0d"/><stop offset="0.2663" stop-color="#0d0d0d"/><stop offset="0.2714" stop-color="#0d0d0d"/><stop offset="0.2764" stop-color="#0d0d0d"/><stop offset="0.2814" stop-color="#0d0d0d"/><stop offset="0.2864" stop-color="#0d0d0d"/><stop offset="0.2915" stop-color="#0d0d0d"/><stop offset="0.2965" stop-color="#0d0d0d"/><stop offset="0.3015" stop-color="#0d0d0d"/><stop offset="0.3065" stop-color="#0d0d0d"/><stop offset="0.3116" stop-color="#0d0d0d"/><stop offset="0.3166" stop-color="#0d0d0d"/><stop offset="0.3216" stop-color="#0d0d0d"/><stop offset="0.3266" stop-color="#0d0d0d"/><stop offset="0.3317" stop-color="#0d0d0d"/><stop offset="0.3367" stop-color="#0d0d0d"/><stop offset="0.3417" stop-color="#0d0d0d"/><stop offset="0.3467" stop-color="#0d0d0d"/><stop offset="0.3518" stop-color="#0d0d0d"/><stop offset="0.3568" stop-color="#0d0d0d"/><stop offset="0.3618" stop-color="#0d0d0d"/><stop offset="0.3668" stop-color="#0d0d0d"/><stop offset="0.3719" stop-color="#0d0d0d"/><stop offset="0.3769" stop-color="#0d0d0d"/><stop offset="0.3819" stop-color="#0d0d0d"/><stop offset="0.3869" stop-color="#0d0d0d"/><stop offset="0.3920" stop-color="#0d0d0d"/><stop offset="0.3970" stop-color="#0d0d0d"/><stop offset="0.4020" stop-color="#0d0d0d"/><stop offset="0.4070" stop-color="#0d0d0d"/><stop offset="0.4121" stop-color="#0d0d0d"/><stop offset="0.4171" stop-color="#0d0d0d"/><stop offset="0.4221" stop-color="#0d0d0d"/><stop offset="0.4271" stop-color="#0d0d0d"/><stop offset="0.4322" stop-color="#0d0d0d"/><stop offset="0.4372" stop-color="#0d0d0d"/><stop offset="0.4422" stop-color="#0d0d0d"/><stop offset="0.4472" stop-color="#0d0d0d"/><stop offset="0.4523" stop-color="#0d0d0d"/><stop offset="0.4573" stop-color="#0d0d0d"/><stop offset="0.4623" stop-color="#0d0d0d"/><stop offset="0.4673" stop-color="#0d0d0d"/><stop offset="0.4724" stop-color="#0d0d0d"/><stop offset="0.4774" stop-color="#0d0d0d"/><stop offset="0.4824" stop-color="#0d0d0d"/><stop offset="0.4874" stop-color="#0d0d0d"/><stop offset="0.4925" stop-color="#0d0d0d"/><stop offset="0.4975" stop-color="#0d0d0d"/><stop offset="0.5025" stop-color="#0d0d0d"/><stop offset="0.5075" stop-color="#0d0d0d"/><stop offset="0.5126" stop-color="#0e0e0e"/><stop offset="0.5176" stop-color="#0e0e0e"/><stop offset="0.5226" stop-color="#0e0e0e"/><stop offset="0.5276" stop-color="#0f0f0f"/><stop offset="0.5327" stop-color="#101010"/><stop offset="0.5377" stop-color="#101010"/><stop offset="0.5427" stop-color="#111111"/><stop offset="0.5477" stop-color="#131313"/><stop offset="0.5528" stop-color="#141414"/><stop offset="0.5578" stop-color="#161616"/><stop offset="0.5628" stop-color="#181818"/><stop offset="0.5678" stop-color="#1b1b1b"/><stop offset="0.5729" stop-color="#1d1d1d"/><stop offset="0.5779" stop-color="#202020"/><stop offset="0.5829" stop-color="#242424"/><stop offset="0.5879" stop-color="#272727"/><stop offset="0.5930" stop-color="#2b2b2b"/><stop offset="0.5980" stop-color="#2f2f2f"/><stop offset="0.6030" stop-color="#333333"/><stop offset="0.6080" stop-color="#373737"/><stop offset="0.6131" stop-color="#3b3b3b"/><stop offset="0.6181" stop-color="#3e3e3e"/><stop offset="0.6231" stop-color="#414141"/><stop offset="0.6281" stop-color="#444444"/><stop offset="0.6332" stop-color="#464646"/><stop offset="0.6382" stop-color="#474747"/><stop offset="0.6432" stop-color="#484848"/><stop offset="0.6482" stop-color="#484848"/><stop offset="0.6533" stop-color="#474747"/><stop offset="0.6583" stop-color="#464646"/><stop offset="0.6633" stop-color="#444444"/><stop offset="0.6683" stop-color="#414141"/><stop offset="0.6734" stop-color="#3e3e3e"/><stop offset="0.6784" stop-color="#3b3b3b"/><stop offset="0.6834" stop-color="#373737"/><stop offset="0.6884" stop-color="#333333"/><stop offset="0.6935" stop-color="#2f2f2f"/><stop offset="0.6985" stop-color="#2b2b2b"/><stop offset="0.7035" stop-color="#272727"/><stop offset="0.7085" stop-color="#242424"/><stop offset="0.7136" stop-color="#202020"/><stop offset="0.7186" stop-color="#1d1d1d"/><stop offset="0.7236" stop-color="#1a1a1a"/><stop offset="0.7286" stop-color="#181818"/><stop offset="0.7337" stop-color="#161616"/><stop offset="0.7387" stop-color="#141414"/><stop offset="0.7437" stop-color="#131313"/><stop offset="0.7487" stop-color="#111111"/><stop offset="0.7538" stop-color="#101010"/><stop offset="0.7588" stop-color="#0f0f0f"/><stop offset="0.7638" stop-color="#0f0f0f"/><stop offset="0.7688" stop-color="#0e0e0e"/><stop offset="0.7739" stop-color="#0e0e0e"/><stop offset="0.7789" stop-color="#0e0e0e"/><stop offset="0.7839" stop-color="#0d0d0d"/><stop offset="0.7889" stop-color="#0d0d0d"/><stop offset="0.7940" stop-color="#0d0d0d"/><stop offset="0.7990" stop-color="#0d0d0d"/><stop offset="0.8040" stop-color="#0d0d0d"/><stop offset="0.8090" stop-color="#0d0d0d"/><stop offset="0.8141" stop-color="#0d0d0d"/><stop offset="0.8191" stop-color="#0d0d0d"/><stop offset="0.8241" stop-color="#0d0d0d"/><stop offset="0.8291" stop-color="#0d0d0d"/><stop offset="0.8342" stop-color="#0d0d0d"/><stop offset="0.8392" stop-color="#0d0d0d"/><stop offset="0.8442" stop-color="#0d0d0d"/><stop offset="0.8492" stop-color="#0d0d0d"/><stop offset="0.8543" stop-color="#0d0d0d"/><stop offset="0.8593" stop-color="#0d0d0d"/><stop offset="0.8643" stop-color="#0d0d0d"/><stop offset="0.8693" stop-color="#0d0d0d"/><stop offset="0.8744" stop-color="#0d0d0d"/><stop offset="0.8794" stop-color="#0d0d0d"/><stop offset="0.8844" stop-color="#0d0d0d"/><stop offset="0.8894" stop-color="#0d0d0d"/><stop offset="0.8945" stop-color="#0d0d0d"/><stop offset="0.8995" stop-color="#0d0d0d"/><stop offset="0.9045" stop-color="#0d0d0d"/><stop offset="0.9095" stop-color="#0d0d0d"/><stop offset="0.9146" stop-color="#0d0d0d"/><stop offset="0.9196" stop-color="#0d0d0d"/><stop offset="0.9246" stop-color="#0d0d0d"/><stop offset="0.9296" stop-color="#0d0d0d"/><stop offset="0.9347" stop-color="#0d0d0d"/><stop offset="0.9397" stop-color="#0d0d0d"/><stop offset="0.9447" stop-color="#0d0d0d"/><stop offset="0.9497" stop-color="#0d0d0d"/><stop offset="0.9548" stop-color="#0d0d0d"/><stop offset="0.9598" stop-color="#0d0d0d"/><stop offset="0.9648" stop-color="#0d0d0d"/><stop offset="0.9698" stop-color="#0d0d0d"/><stop offset="0.9749" stop-color="#0d0d0d"/><stop offset="0.9799" stop-color="#0d0d0d"/><stop offset="0.9849" stop-color="#0d0d0d"/><stop offset="0.9899" stop-color="#0d0d0d"/><stop offset="0.9950" stop-color="#0d0d0d"/><stop offset="1.0000" stop-color="#0d0d0d"/></radialGradient><radialGradient id="rg1i" gradientUnits="userSpaceOnUse" cx="0" cy="0" r="46.00"><stop offset="0.0000" stop-color="#040404" stop-opacity="1.000"/><stop offset="0.0042" stop-color="#040404" stop-opacity="1.000"/><stop offset="0.0084" stop-color="#040404" stop-opacity="1.000"/><stop offset="0.0126" stop-color="#040404" stop-opacity="1.000"/><stop offset="0.0167" stop-color="#040404" stop-opacity="1.000"/><stop offset="0.0209" stop-color="#040404" stop-opacity="1.000"/><stop offset="0.0251" stop-color="#040404" stop-opacity="1.000"/><stop offset="0.0293" stop-color="#040404" stop-opacity="1.000"/><stop offset="0.0335" stop-color="#040404" stop-opacity="1.000"/><stop offset="0.0377" stop-color="#040404" stop-opacity="1.000"/><stop offset="0.0418" stop-color="#040404" stop-opacity="1.000"/><stop offset="0.0460" stop-color="#040404" stop-opacity="1.000"/><stop offset="0.0502" stop-color="#040404" stop-opacity="1.000"/><stop offset="0.0544" stop-color="#040404" stop-opacity="1.000"/><stop offset="0.0586" stop-color="#040404" stop-opacity="1.000"/><stop offset="0.0628" stop-color="#040404" stop-opacity="1.000"/><stop offset="0.0669" stop-color="#040404" stop-opacity="1.000"/><stop offset="0.0711" stop-color="#040404" stop-opacity="1.000"/><stop offset="0.0753" stop-color="#040404" stop-opacity="1.000"/><stop offset="0.0795" stop-color="#040404" stop-opacity="1.000"/><stop offset="0.0837" stop-color="#040404" stop-opacity="1.000"/><stop offset="0.0879" stop-color="#040404" stop-opacity="1.000"/><stop offset="0.0921" stop-color="#040404" stop-opacity="1.000"/><stop offset="0.0962" stop-color="#040404" stop-opacity="1.000"/><stop offset="0.1004" stop-color="#040404" stop-opacity="1.000"/><stop offset="0.1046" stop-color="#040404" stop-opacity="1.000"/><stop offset="0.1088" stop-color="#040404" stop-opacity="1.000"/><stop offset="0.1130" stop-color="#040404" stop-opacity="1.000"/><stop offset="0.1172" stop-color="#040404" stop-opacity="1.000"/><stop offset="0.1213" stop-color="#040404" stop-opacity="1.000"/><stop offset="0.1255" stop-color="#040404" stop-opacity="1.000"/><stop offset="0.1297" stop-color="#040404" stop-opacity="1.000"/><stop offset="0.1339" stop-color="#040404" stop-opacity="1.000"/><stop offset="0.1381" stop-color="#040404" stop-opacity="1.000"/><stop offset="0.1423" stop-color="#040404" stop-opacity="1.000"/><stop offset="0.1464" stop-color="#040404" stop-opacity="1.000"/><stop offset="0.1506" stop-color="#040404" stop-opacity="1.000"/><stop offset="0.1548" stop-color="#040404" stop-opacity="1.000"/><stop offset="0.1590" stop-color="#040404" stop-opacity="1.000"/><stop offset="0.1632" stop-color="#040404" stop-opacity="1.000"/><stop offset="0.1674" stop-color="#040404" stop-opacity="1.000"/><stop offset="0.1715" stop-color="#040404" stop-opacity="1.000"/><stop offset="0.1757" stop-color="#040404" stop-opacity="1.000"/><stop offset="0.1799" stop-color="#040404" stop-opacity="1.000"/><stop offset="0.1841" stop-color="#040404" stop-opacity="1.000"/><stop offset="0.1883" stop-color="#040404" stop-opacity="1.000"/><stop offset="0.1925" stop-color="#040404" stop-opacity="1.000"/><stop offset="0.1967" stop-color="#040404" stop-opacity="1.000"/><stop offset="0.2008" stop-color="#040404" stop-opacity="1.000"/><stop offset="0.2050" stop-color="#040404" stop-opacity="1.000"/><stop offset="0.2092" stop-color="#040404" stop-opacity="1.000"/><stop offset="0.2134" stop-color="#040404" stop-opacity="1.000"/><stop offset="0.2176" stop-color="#040404" stop-opacity="1.000"/><stop offset="0.2218" stop-color="#040404" stop-opacity="1.000"/><stop offset="0.2259" stop-color="#040404" stop-opacity="1.000"/><stop offset="0.2301" stop-color="#040404" stop-opacity="1.000"/><stop offset="0.2343" stop-color="#040404" stop-opacity="1.000"/><stop offset="0.2385" stop-color="#040404" stop-opacity="1.000"/><stop offset="0.2427" stop-color="#040404" stop-opacity="1.000"/><stop offset="0.2469" stop-color="#040404" stop-opacity="1.000"/><stop offset="0.2510" stop-color="#040404" stop-opacity="1.000"/><stop offset="0.2552" stop-color="#040404" stop-opacity="1.000"/><stop offset="0.2594" stop-color="#040404" stop-opacity="1.000"/><stop offset="0.2636" stop-color="#040404" stop-opacity="1.000"/><stop offset="0.2678" stop-color="#040404" stop-opacity="1.000"/><stop offset="0.2720" stop-color="#050505" stop-opacity="1.000"/><stop offset="0.2762" stop-color="#050505" stop-opacity="1.000"/><stop offset="0.2803" stop-color="#050505" stop-opacity="1.000"/><stop offset="0.2845" stop-color="#060606" stop-opacity="1.000"/><stop offset="0.2887" stop-color="#070707" stop-opacity="1.000"/><stop offset="0.2929" stop-color="#080808" stop-opacity="1.000"/><stop offset="0.2971" stop-color="#090909" stop-opacity="1.000"/><stop offset="0.3013" stop-color="#0b0b0b" stop-opacity="1.000"/><stop offset="0.3054" stop-color="#0d0d0d" stop-opacity="1.000"/><stop offset="0.3096" stop-color="#0f0f0f" stop-opacity="1.000"/><stop offset="0.3138" stop-color="#121212" stop-opacity="1.000"/><stop offset="0.3180" stop-color="#151515" stop-opacity="1.000"/><stop offset="0.3222" stop-color="#181818" stop-opacity="1.000"/><stop offset="0.3264" stop-color="#1a1a1a" stop-opacity="1.000"/><stop offset="0.3305" stop-color="#1c1c1c" stop-opacity="1.000"/><stop offset="0.3347" stop-color="#1e1e1e" stop-opacity="1.000"/><stop offset="0.3389" stop-color="#1f1f1f" stop-opacity="1.000"/><stop offset="0.3431" stop-color="#1e1e1e" stop-opacity="1.000"/><stop offset="0.3473" stop-color="#1e1e1e" stop-opacity="1.000"/><stop offset="0.3515" stop-color="#1c1c1c" stop-opacity="1.000"/><stop offset="0.3556" stop-color="#1a1a1a" stop-opacity="1.000"/><stop offset="0.3598" stop-color="#181818" stop-opacity="1.000"/><stop offset="0.3640" stop-color="#161616" stop-opacity="1.000"/><stop offset="0.3682" stop-color="#131313" stop-opacity="1.000"/><stop offset="0.3724" stop-color="#121212" stop-opacity="1.000"/><stop offset="0.3766" stop-color="#101010" stop-opacity="1.000"/><stop offset="0.3808" stop-color="#0f0f0f" stop-opacity="1.000"/><stop offset="0.3849" stop-color="#0e0e0e" stop-opacity="1.000"/><stop offset="0.3891" stop-color="#0d0d0d" stop-opacity="1.000"/><stop offset="0.3933" stop-color="#0d0d0d" stop-opacity="1.000"/><stop offset="0.3975" stop-color="#0d0d0d" stop-opacity="1.000"/><stop offset="0.4017" stop-color="#0d0d0d" stop-opacity="1.000"/><stop offset="0.4059" stop-color="#0d0d0d" stop-opacity="1.000"/><stop offset="0.4100" stop-color="#0d0d0d" stop-opacity="1.000"/><stop offset="0.4142" stop-color="#0d0d0d" stop-opacity="1.000"/><stop offset="0.4184" stop-color="#0d0d0d" stop-opacity="1.000"/><stop offset="0.4226" stop-color="#0d0d0d" stop-opacity="1.000"/><stop offset="0.4268" stop-color="#0d0d0d" stop-opacity="1.000"/><stop offset="0.4310" stop-color="#0e0e0e" stop-opacity="1.000"/><stop offset="0.4351" stop-color="#0e0e0e" stop-opacity="1.000"/><stop offset="0.4393" stop-color="#0e0e0e" stop-opacity="1.000"/><stop offset="0.4435" stop-color="#0e0e0e" stop-opacity="1.000"/><stop offset="0.4477" stop-color="#0f0f0f" stop-opacity="1.000"/><stop offset="0.4519" stop-color="#0f0f0f" stop-opacity="1.000"/><stop offset="0.4561" stop-color="#0f0f0f" stop-opacity="1.000"/><stop offset="0.4603" stop-color="#101010" stop-opacity="1.000"/><stop offset="0.4644" stop-color="#111111" stop-opacity="1.000"/><stop offset="0.4686" stop-color="#121212" stop-opacity="1.000"/><stop offset="0.4728" stop-color="#141414" stop-opacity="1.000"/><stop offset="0.4770" stop-color="#161616" stop-opacity="1.000"/><stop offset="0.4812" stop-color="#1a1a1a" stop-opacity="1.000"/><stop offset="0.4854" stop-color="#1f1f1f" stop-opacity="1.000"/><stop offset="0.4895" stop-color="#272727" stop-opacity="1.000"/><stop offset="0.4937" stop-color="#303030" stop-opacity="1.000"/><stop offset="0.4979" stop-color="#3d3d3d" stop-opacity="1.000"/><stop offset="0.5021" stop-color="#4c4c4c" stop-opacity="1.000"/><stop offset="0.5063" stop-color="#5d5d5d" stop-opacity="1.000"/><stop offset="0.5105" stop-color="#717171" stop-opacity="1.000"/><stop offset="0.5146" stop-color="#848484" stop-opacity="1.000"/><stop offset="0.5188" stop-color="#979797" stop-opacity="1.000"/><stop offset="0.5230" stop-color="#a8a8a8" stop-opacity="1.000"/><stop offset="0.5272" stop-color="#b5b5b5" stop-opacity="1.000"/><stop offset="0.5314" stop-color="#bdbdbd" stop-opacity="1.000"/><stop offset="0.5356" stop-color="#bfbfbf" stop-opacity="1.000"/><stop offset="0.5397" stop-color="#bfbfbf" stop-opacity="1.000"/><stop offset="0.5439" stop-color="#bebebe" stop-opacity="1.000"/><stop offset="0.5481" stop-color="#bdbdbd" stop-opacity="1.000"/><stop offset="0.5523" stop-color="#bababa" stop-opacity="1.000"/><stop offset="0.5565" stop-color="#b6b6b6" stop-opacity="1.000"/><stop offset="0.5607" stop-color="#b2b2b2" stop-opacity="1.000"/><stop offset="0.5649" stop-color="#adadad" stop-opacity="1.000"/><stop offset="0.5690" stop-color="#a7a7a7" stop-opacity="1.000"/><stop offset="0.5732" stop-color="#a1a1a1" stop-opacity="1.000"/><stop offset="0.5774" stop-color="#9b9b9b" stop-opacity="1.000"/><stop offset="0.5816" stop-color="#959595" stop-opacity="1.000"/><stop offset="0.5858" stop-color="#8e8e8e" stop-opacity="1.000"/><stop offset="0.5900" stop-color="#888888" stop-opacity="1.000"/><stop offset="0.5941" stop-color="#828282" stop-opacity="1.000"/><stop offset="0.5983" stop-color="#7c7c7c" stop-opacity="1.000"/><stop offset="0.6025" stop-color="#777777" stop-opacity="1.000"/><stop offset="0.6067" stop-color="#727272" stop-opacity="1.000"/><stop offset="0.6109" stop-color="#6d6d6d" stop-opacity="1.000"/><stop offset="0.6151" stop-color="#696969" stop-opacity="1.000"/><stop offset="0.6192" stop-color="#666666" stop-opacity="1.000"/><stop offset="0.6234" stop-color="#636363" stop-opacity="1.000"/><stop offset="0.6276" stop-color="#606060" stop-opacity="1.000"/><stop offset="0.6318" stop-color="#5e5e5e" stop-opacity="1.000"/><stop offset="0.6360" stop-color="#5d5d5d" stop-opacity="1.000"/><stop offset="0.6402" stop-color="#5b5b5b" stop-opacity="1.000"/><stop offset="0.6444" stop-color="#5b5b5b" stop-opacity="1.000"/><stop offset="0.6485" stop-color="#5a5a5a" stop-opacity="1.000"/><stop offset="0.6527" stop-color="#5a5a5a" stop-opacity="1.000"/><stop offset="0.6569" stop-color="#5a5a5a" stop-opacity="1.000"/><stop offset="0.6611" stop-color="#5a5a5a" stop-opacity="1.000"/><stop offset="0.6653" stop-color="#5a5a5a" stop-opacity="1.000"/><stop offset="0.6695" stop-color="#5b5b5b" stop-opacity="1.000"/><stop offset="0.6736" stop-color="#5b5b5b" stop-opacity="1.000"/><stop offset="0.6778" stop-color="#5c5c5c" stop-opacity="1.000"/><stop offset="0.6820" stop-color="#5c5c5c" stop-opacity="1.000"/><stop offset="0.6862" stop-color="#5d5d5d" stop-opacity="1.000"/><stop offset="0.6904" stop-color="#5d5d5d" stop-opacity="1.000"/><stop offset="0.6946" stop-color="#5d5d5d" stop-opacity="1.000"/><stop offset="0.6987" stop-color="#5e5e5e" stop-opacity="1.000"/><stop offset="0.7029" stop-color="#5e5e5e" stop-opacity="1.000"/><stop offset="0.7071" stop-color="#5e5e5e" stop-opacity="1.000"/><stop offset="0.7113" stop-color="#5e5e5e" stop-opacity="1.000"/><stop offset="0.7155" stop-color="#5d5d5d" stop-opacity="1.000"/><stop offset="0.7197" stop-color="#5d5d5d" stop-opacity="1.000"/><stop offset="0.7238" stop-color="#5d5d5d" stop-opacity="1.000"/><stop offset="0.7280" stop-color="#5c5c5c" stop-opacity="1.000"/><stop offset="0.7322" stop-color="#5b5b5b" stop-opacity="1.000"/><stop offset="0.7364" stop-color="#5a5a5a" stop-opacity="1.000"/><stop offset="0.7406" stop-color="#595959" stop-opacity="1.000"/><stop offset="0.7448" stop-color="#585858" stop-opacity="1.000"/><stop offset="0.7490" stop-color="#575757" stop-opacity="1.000"/><stop offset="0.7531" stop-color="#555555" stop-opacity="1.000"/><stop offset="0.7573" stop-color="#545454" stop-opacity="1.000"/><stop offset="0.7615" stop-color="#525252" stop-opacity="1.000"/><stop offset="0.7657" stop-color="#505050" stop-opacity="1.000"/><stop offset="0.7699" stop-color="#4e4e4e" stop-opacity="1.000"/><stop offset="0.7741" stop-color="#4d4d4d" stop-opacity="1.000"/><stop offset="0.7782" stop-color="#4b4b4b" stop-opacity="1.000"/><stop offset="0.7824" stop-color="#494949" stop-opacity="1.000"/><stop offset="0.7866" stop-color="#474747" stop-opacity="1.000"/><stop offset="0.7908" stop-color="#454545" stop-opacity="1.000"/><stop offset="0.7950" stop-color="#424242" stop-opacity="1.000"/><stop offset="0.7992" stop-color="#404040" stop-opacity="1.000"/><stop offset="0.8033" stop-color="#3e3e3e" stop-opacity="1.000"/><stop offset="0.8075" stop-color="#3c3c3c" stop-opacity="0.984"/><stop offset="0.8117" stop-color="#3a3a3a" stop-opacity="0.962"/><stop offset="0.8159" stop-color="#383838" stop-opacity="0.941"/><stop offset="0.8201" stop-color="#363636" stop-opacity="0.920"/><stop offset="0.8243" stop-color="#343434" stop-opacity="0.898"/><stop offset="0.8285" stop-color="#323232" stop-opacity="0.877"/><stop offset="0.8326" stop-color="#303030" stop-opacity="0.855"/><stop offset="0.8368" stop-color="#2e2e2e" stop-opacity="0.834"/><stop offset="0.8410" stop-color="#2c2c2c" stop-opacity="0.813"/><stop offset="0.8452" stop-color="#2a2a2a" stop-opacity="0.791"/><stop offset="0.8494" stop-color="#282828" stop-opacity="0.770"/><stop offset="0.8536" stop-color="#262626" stop-opacity="0.748"/><stop offset="0.8577" stop-color="#252525" stop-opacity="0.727"/><stop offset="0.8619" stop-color="#232323" stop-opacity="0.706"/><stop offset="0.8661" stop-color="#222222" stop-opacity="0.684"/><stop offset="0.8703" stop-color="#202020" stop-opacity="0.663"/><stop offset="0.8745" stop-color="#1f1f1f" stop-opacity="0.642"/><stop offset="0.8787" stop-color="#1d1d1d" stop-opacity="0.620"/><stop offset="0.8828" stop-color="#1c1c1c" stop-opacity="0.599"/><stop offset="0.8870" stop-color="#1b1b1b" stop-opacity="0.577"/><stop offset="0.8912" stop-color="#1a1a1a" stop-opacity="0.556"/><stop offset="0.8954" stop-color="#191919" stop-opacity="0.535"/><stop offset="0.8996" stop-color="#181818" stop-opacity="0.513"/><stop offset="0.9038" stop-color="#171717" stop-opacity="0.492"/><stop offset="0.9079" stop-color="#161616" stop-opacity="0.470"/><stop offset="0.9121" stop-color="#151515" stop-opacity="0.449"/><stop offset="0.9163" stop-color="#141414" stop-opacity="0.428"/><stop offset="0.9205" stop-color="#141414" stop-opacity="0.406"/><stop offset="0.9247" stop-color="#131313" stop-opacity="0.385"/><stop offset="0.9289" stop-color="#121212" stop-opacity="0.364"/><stop offset="0.9331" stop-color="#121212" stop-opacity="0.342"/><stop offset="0.9372" stop-color="#111111" stop-opacity="0.321"/><stop offset="0.9414" stop-color="#111111" stop-opacity="0.299"/><stop offset="0.9456" stop-color="#111111" stop-opacity="0.278"/><stop offset="0.9498" stop-color="#101010" stop-opacity="0.257"/><stop offset="0.9540" stop-color="#101010" stop-opacity="0.235"/><stop offset="0.9582" stop-color="#0f0f0f" stop-opacity="0.214"/><stop offset="0.9623" stop-color="#0f0f0f" stop-opacity="0.192"/><stop offset="0.9665" stop-color="#0f0f0f" stop-opacity="0.171"/><stop offset="0.9707" stop-color="#0f0f0f" stop-opacity="0.150"/><stop offset="0.9749" stop-color="#0e0e0e" stop-opacity="0.128"/><stop offset="0.9791" stop-color="#0e0e0e" stop-opacity="0.107"/><stop offset="0.9833" stop-color="#0e0e0e" stop-opacity="0.086"/><stop offset="0.9874" stop-color="#0e0e0e" stop-opacity="0.064"/><stop offset="0.9916" stop-color="#0e0e0e" stop-opacity="0.043"/><stop offset="0.9958" stop-color="#0e0e0e" stop-opacity="0.021"/><stop offset="1.0000" stop-color="#0e0e0e" stop-opacity="0.000"/></radialGradient>
<radialGradient id="ps0"><stop offset="0.000" stop-color="#fff" stop-opacity="0.2275"/><stop offset="0.091" stop-color="#fff" stop-opacity="0.2181"/><stop offset="0.182" stop-color="#fff" stop-opacity="0.1921"/><stop offset="0.273" stop-color="#fff" stop-opacity="0.1555"/><stop offset="0.364" stop-color="#fff" stop-opacity="0.1156"/><stop offset="0.455" stop-color="#fff" stop-opacity="0.0790"/><stop offset="0.545" stop-color="#fff" stop-opacity="0.0496"/><stop offset="0.636" stop-color="#fff" stop-opacity="0.0286"/><stop offset="0.727" stop-color="#fff" stop-opacity="0.0152"/><stop offset="0.818" stop-color="#fff" stop-opacity="0.0074"/><stop offset="0.909" stop-color="#fff" stop-opacity="0.0033"/><stop offset="1.000" stop-color="#fff" stop-opacity="0.0014"/></radialGradient>
<radialGradient id="ps1"><stop offset="0.000" stop-color="#fff" stop-opacity="0.4643"/><stop offset="0.091" stop-color="#fff" stop-opacity="0.4450"/><stop offset="0.182" stop-color="#fff" stop-opacity="0.3920"/><stop offset="0.273" stop-color="#fff" stop-opacity="0.3172"/><stop offset="0.364" stop-color="#fff" stop-opacity="0.2359"/><stop offset="0.455" stop-color="#fff" stop-opacity="0.1612"/><stop offset="0.545" stop-color="#fff" stop-opacity="0.1012"/><stop offset="0.636" stop-color="#fff" stop-opacity="0.0584"/><stop offset="0.727" stop-color="#fff" stop-opacity="0.0310"/><stop offset="0.818" stop-color="#fff" stop-opacity="0.0151"/><stop offset="0.909" stop-color="#fff" stop-opacity="0.0067"/><stop offset="1.000" stop-color="#fff" stop-opacity="0.0028"/></radialGradient>
<linearGradient id="cbg" x1="0" y1="0" x2="0" y2="1"><stop offset="0.000" stop-color="#fcffa4"/><stop offset="0.031" stop-color="#f3f68a"/><stop offset="0.062" stop-color="#f2ea69"/><stop offset="0.094" stop-color="#f5db4c"/><stop offset="0.125" stop-color="#f9cb35"/><stop offset="0.156" stop-color="#fbbc21"/><stop offset="0.188" stop-color="#fcac11"/><stop offset="0.219" stop-color="#fb9d07"/><stop offset="0.250" stop-color="#f98e09"/><stop offset="0.281" stop-color="#f68013"/><stop offset="0.312" stop-color="#f1731d"/><stop offset="0.344" stop-color="#eb6628"/><stop offset="0.375" stop-color="#e45a31"/><stop offset="0.406" stop-color="#db503b"/><stop offset="0.438" stop-color="#d24644"/><stop offset="0.469" stop-color="#c73e4c"/><stop offset="0.500" stop-color="#bc3754"/><stop offset="0.531" stop-color="#b0315b"/><stop offset="0.562" stop-color="#a32c61"/><stop offset="0.594" stop-color="#972766"/><stop offset="0.625" stop-color="#8a226a"/><stop offset="0.656" stop-color="#7d1e6d"/><stop offset="0.688" stop-color="#71196e"/><stop offset="0.719" stop-color="#64156e"/><stop offset="0.750" stop-color="#57106e"/><stop offset="0.781" stop-color="#4a0c6b"/><stop offset="0.812" stop-color="#3d0965"/><stop offset="0.844" stop-color="#2f0a5b"/><stop offset="0.875" stop-color="#210c4a"/><stop offset="0.906" stop-color="#150b37"/><stop offset="0.938" stop-color="#0b0724"/><stop offset="0.969" stop-color="#040312"/><stop offset="1.000" stop-color="#000004"/></linearGradient>
<radialGradient id="blobW"><stop offset="0" stop-color="#fff" stop-opacity="1"/><stop offset="1" stop-color="#fff" stop-opacity="0"/></radialGradient>
<radialGradient id="blobK"><stop offset="0" stop-color="#000" stop-opacity="1"/><stop offset="1" stop-color="#000" stop-opacity="0"/></radialGradient>
<clipPath id="clp0"><rect x="42.60" y="183.90" width="185.50" height="130.80"/></clipPath>
<clipPath id="clp1"><rect x="320.80" y="183.90" width="185.50" height="130.80"/></clipPath>
</defs>
<g clip-path="url(#ic0)"><g filter="url(#cm0)">
<rect x="51.70" y="-9.50" width="151.00" height="151.00" fill="#0d0d0d"/>
<g transform="translate(127.40 66.00) rotate(33.00) scale(1 0.600)">
<circle r="90.00" fill="url(#rg0)"/>
</g>
<g transform="translate(127.40 66.00) rotate(30.00) scale(1.0150 0.6090)">
<circle r="46.00" fill="url(#rg0i)"/>
<ellipse cx="-26.00" cy="0" rx="14.00" ry="30.00" fill="url(#blobK)" opacity="0.065"/>
<ellipse cx="26.00" cy="0" rx="14.00" ry="30.00" fill="url(#blobK)" opacity="0.065"/>
</g>
<circle cx="127.70" cy="66.20" r="4.8" fill="url(#ps0)"/>
</g>
<path d="M112.3 42.9L112.6 42.8L113.1 42.8L113.6 42.8L114.1 42.8L114.6 42.7L115.1 42.7L115.6 42.7L116.1 42.7L116.6 42.8L117.1 42.8L117.6 42.8L118.1 42.9L118.3 42.9L118.8 42.9L119.3 43.0L119.8 43.1L120.2 43.1L120.6 43.2L121.1 43.3L121.5 43.4L121.8 43.4L122.3 43.5L122.7 43.6L123.1 43.7L123.6 43.8L123.8 43.9L124.3 44.0L124.7 44.1L125.1 44.2L125.5 44.4L125.8 44.5L126.3 44.6L126.6 44.7L127.1 44.9L127.3 44.9L127.8 45.1L128.1 45.2L128.6 45.4L128.8 45.5L129.2 45.6L129.6 45.8L129.9 45.9L130.3 46.0L130.6 46.1L131.1 46.4L131.3 46.5L131.7 46.6L132.1 46.8L132.3 46.9L132.8 47.1L133.1 47.2L133.4 47.4L133.8 47.6L134.1 47.7L134.4 47.9L134.8 48.1L135.1 48.2L135.4 48.4L135.8 48.6L136.1 48.7L136.4 48.9L136.8 49.1L137.1 49.3L137.3 49.4L137.7 49.6L138.1 49.8L138.3 50.0L138.6 50.1L139.0 50.4L139.3 50.6L139.6 50.7L139.8 50.9L140.2 51.1L140.6 51.4L140.8 51.6L141.1 51.7L141.3 51.9L141.7 52.1L142.0 52.4L142.3 52.6L142.6 52.8L142.8 53.0L143.1 53.1L143.4 53.4L143.7 53.6L144.0 53.9L144.3 54.1L144.6 54.3L144.8 54.5L145.1 54.7L145.3 54.9L145.6 55.1L145.9 55.4L146.2 55.6L146.4 55.9L146.7 56.1L147.0 56.4L147.3 56.6L147.5 56.9L147.8 57.1L148.1 57.4L148.3 57.6L148.6 57.9L148.8 58.1L149.0 58.4L149.3 58.6L149.5 58.9L149.7 59.1L150.0 59.4L150.2 59.6L150.4 59.9L150.6 60.1L150.8 60.4L151.1 60.7L151.3 61.0L151.6 61.3L151.8 61.6L152.0 61.9L152.2 62.1L152.4 62.4L152.6 62.7L152.8 63.0L153.1 63.4L153.2 63.6L153.4 63.9L153.6 64.2L153.8 64.6L154.0 64.9L154.2 65.1L154.3 65.4L154.6 65.9L154.7 66.1L154.8 66.4L155.1 66.8L155.2 67.1L155.3 67.4L155.6 67.9L155.7 68.1L155.8 68.5L156.0 68.9L156.1 69.1L156.3 69.6L156.4 69.9L156.5 70.4L156.6 70.6L156.8 71.1L156.8 71.4L157.0 71.9L157.1 72.4L157.1 72.6L157.2 73.1L157.3 73.6L157.3 73.9L157.4 74.4L157.4 74.9L157.5 75.4L157.5 75.9L157.5 76.4L157.5 76.9L157.4 77.4L157.4 77.9L157.3 78.1L157.2 78.6L157.1 79.1L157.0 79.4L156.9 79.9L156.8 80.1L156.6 80.6L156.5 80.9L156.3 81.3L156.1 81.6L156.0 81.9L155.8 82.2L155.6 82.6L155.3 82.9L155.2 83.1L155.0 83.4L154.7 83.6L154.5 83.9L154.3 84.1L154.0 84.4L153.8 84.6L153.5 84.9L153.2 85.1L152.9 85.4L152.6 85.6L152.3 85.8L152.1 85.9L151.8 86.1L151.4 86.4L151.1 86.6L150.8 86.7L150.5 86.9L150.1 87.1L149.8 87.2L149.4 87.4L149.1 87.5L148.8 87.6L148.3 87.8L148.1 87.9L147.6 88.1L147.3 88.2L146.8 88.3L146.6 88.4L146.1 88.5L145.6 88.6L145.3 88.7L144.8 88.8L144.4 88.9L144.1 88.9L143.6 89.0L143.1 89.1L142.6 89.1L142.3 89.1L141.8 89.2L141.3 89.2L140.8 89.2L140.3 89.3L139.8 89.3L139.3 89.3L138.8 89.3L138.3 89.2L137.8 89.2L137.3 89.2L136.8 89.2L136.5 89.1L136.1 89.1L135.6 89.0L135.1 88.9L134.6 88.9L134.3 88.8L133.8 88.7L133.3 88.6L133.1 88.6L132.6 88.5L132.1 88.4L131.8 88.3L131.3 88.2L131.1 88.1L130.6 88.0L130.1 87.9L129.8 87.8L129.3 87.6L129.1 87.6L128.6 87.4L128.3 87.3L127.8 87.2L127.6 87.1L127.1 86.9L126.8 86.8L126.3 86.7L126.1 86.6L125.6 86.4L125.3 86.3L124.9 86.1L124.6 86.0L124.3 85.9L123.8 85.7L123.6 85.6L123.1 85.4L122.8 85.3L122.5 85.1L122.1 84.9L121.8 84.8L121.4 84.6L121.1 84.5L120.8 84.3L120.4 84.1L120.1 84.0L119.8 83.9L119.4 83.6L119.1 83.5L118.8 83.3L118.4 83.1L118.1 82.9L117.8 82.8L117.5 82.6L117.1 82.4L116.8 82.2L116.6 82.1L116.2 81.9L115.8 81.6L115.6 81.5L115.3 81.3L115.0 81.1L114.6 80.9L114.3 80.7L114.1 80.5L113.8 80.3L113.5 80.1L113.1 79.9L112.8 79.7L112.6 79.5L112.3 79.3L112.1 79.1L111.7 78.9L111.4 78.6L111.1 78.4L110.8 78.2L110.6 78.0L110.3 77.8L110.1 77.6L109.8 77.4L109.5 77.1L109.2 76.9L108.9 76.6L108.6 76.4L108.4 76.1L108.1 75.9L107.8 75.6L107.6 75.4L107.3 75.2L107.1 74.9L106.8 74.7L106.6 74.5L106.3 74.2L106.1 74.0L105.8 73.7L105.6 73.4L105.3 73.2L105.1 72.9L104.8 72.6L104.6 72.4L104.4 72.1L104.2 71.9L104.0 71.6L103.8 71.4L103.6 71.1L103.3 70.8L103.1 70.5L102.8 70.2L102.6 69.9L102.4 69.6L102.2 69.4L102.1 69.1L101.8 68.8L101.6 68.4L101.4 68.1L101.2 67.9L101.1 67.6L100.8 67.2L100.6 66.9L100.5 66.6L100.3 66.3L100.1 65.9L100.0 65.6L99.8 65.4L99.6 64.9L99.5 64.6L99.3 64.3L99.1 63.9L99.0 63.6L98.8 63.1L98.7 62.9L98.6 62.5L98.4 62.1L98.3 61.8L98.2 61.4L98.1 61.0L98.0 60.6L97.8 60.1L97.8 59.9L97.7 59.4L97.6 58.9L97.5 58.6L97.5 58.1L97.4 57.6L97.3 57.1L97.3 56.7L97.3 56.4L97.3 55.9L97.3 55.4L97.3 55.1L97.4 54.6L97.4 54.1L97.5 53.6L97.6 53.4L97.7 52.9L97.8 52.4L97.9 52.1L98.1 51.7L98.2 51.4L98.3 51.1L98.5 50.6L98.7 50.4L98.8 50.1L99.1 49.7L99.3 49.4L99.5 49.1L99.6 48.9L99.8 48.6L100.1 48.3L100.3 48.1L100.6 47.8L100.8 47.6L101.1 47.3L101.3 47.1L101.6 46.9L101.9 46.6L102.3 46.4L102.6 46.2L102.8 46.0L103.1 45.8L103.4 45.6L103.8 45.4L104.1 45.3L104.3 45.1L104.8 44.9L105.1 44.8L105.4 44.6L105.8 44.4L106.1 44.3L106.6 44.1L106.8 44.0L107.3 43.9L107.6 43.8L108.1 43.7L108.3 43.6L108.8 43.5L109.2 43.4L109.6 43.3L110.1 43.2L110.4 43.1L110.8 43.1L111.3 43.0L111.8 42.9L112.3 42.9Z M117.1 47.9L116.8 47.9L116.3 47.9L115.8 48.0L115.3 48.1L115.1 48.1L114.6 48.2L114.1 48.4L113.8 48.4L113.3 48.6L113.1 48.7L112.6 48.9L112.3 49.0L112.1 49.1L111.6 49.4L111.3 49.5L111.1 49.6L110.7 49.9L110.3 50.1L110.1 50.3L109.8 50.5L109.6 50.7L109.3 50.9L109.1 51.2L108.8 51.5L108.6 51.7L108.3 52.0L108.1 52.4L107.9 52.6L107.7 52.9L107.6 53.1L107.3 53.6L107.2 53.9L107.1 54.1L106.9 54.6L106.8 54.9L106.6 55.4L106.5 55.6L106.4 56.1L106.3 56.5L106.2 56.9L106.2 57.4L106.1 57.9L106.1 58.3L106.1 58.6L106.0 59.1L106.0 59.6L106.1 60.1L106.1 60.4L106.1 60.9L106.2 61.4L106.3 61.9L106.3 62.2L106.4 62.6L106.5 63.1L106.6 63.4L106.7 63.9L106.8 64.2L107.0 64.6L107.1 64.9L107.3 65.4L107.4 65.6L107.6 66.1L107.7 66.4L107.8 66.7L108.0 67.1L108.2 67.4L108.3 67.7L108.6 68.1L108.7 68.4L108.9 68.6L109.1 69.0L109.3 69.4L109.5 69.6L109.7 69.9L109.8 70.1L110.1 70.5L110.3 70.8L110.6 71.1L110.8 71.4L111.0 71.6L111.2 71.9L111.4 72.1L111.6 72.4L111.8 72.7L112.1 73.0L112.3 73.2L112.6 73.5L112.8 73.8L113.1 74.0L113.3 74.3L113.6 74.5L113.8 74.8L114.1 75.0L114.3 75.2L114.6 75.5L114.8 75.7L115.1 75.9L115.3 76.1L115.6 76.4L115.9 76.6L116.2 76.9L116.6 77.1L116.8 77.3L117.1 77.5L117.3 77.7L117.6 77.9L117.9 78.1L118.3 78.4L118.6 78.6L118.8 78.8L119.1 78.9L119.4 79.1L119.8 79.4L120.1 79.5L120.3 79.7L120.6 79.9L121.1 80.1L121.3 80.3L121.6 80.4L122.0 80.6L122.3 80.8L122.6 80.9L123.0 81.1L123.3 81.3L123.6 81.4L124.1 81.6L124.3 81.7L124.7 81.9L125.1 82.0L125.3 82.1L125.8 82.3L126.1 82.4L126.6 82.6L126.8 82.7L127.3 82.9L127.6 82.9L128.1 83.1L128.3 83.2L128.8 83.3L129.2 83.4L129.6 83.5L130.1 83.6L130.3 83.6L130.8 83.7L131.3 83.8L131.6 83.9L132.1 84.0L132.6 84.0L133.1 84.1L133.6 84.1L133.8 84.1L134.3 84.2L134.8 84.2L135.3 84.2L135.8 84.2L136.3 84.2L136.8 84.2L137.3 84.2L137.8 84.1L138.1 84.1L138.6 84.1L139.1 84.0L139.6 83.9L139.8 83.8L140.3 83.7L140.7 83.6L141.1 83.5L141.5 83.4L141.8 83.3L142.2 83.1L142.6 83.0L142.8 82.8L143.2 82.6L143.6 82.4L143.8 82.3L144.1 82.1L144.5 81.9L144.8 81.6L145.1 81.4L145.3 81.2L145.6 81.0L145.8 80.7L146.1 80.4L146.3 80.1L146.5 79.9L146.7 79.6L146.9 79.4L147.1 79.1L147.3 78.7L147.5 78.4L147.6 78.1L147.8 77.6L147.9 77.4L148.1 77.0L148.2 76.6L148.3 76.2L148.4 75.9L148.5 75.4L148.6 75.0L148.6 74.6L148.7 74.1L148.7 73.6L148.8 73.1L148.8 72.6L148.7 72.1L148.7 71.6L148.7 71.1L148.6 70.6L148.6 70.4L148.5 69.9L148.4 69.4L148.3 69.1L148.2 68.6L148.1 68.2L148.0 67.9L147.8 67.4L147.7 67.1L147.6 66.7L147.4 66.4L147.3 66.1L147.1 65.6L147.0 65.4L146.8 65.0L146.6 64.6L146.5 64.4L146.3 64.1L146.1 63.6L145.9 63.4L145.8 63.1L145.6 62.8L145.3 62.4L145.1 62.1L145.0 61.9L144.8 61.6L144.6 61.3L144.3 61.0L144.1 60.7L143.8 60.4L143.6 60.1L143.4 59.9L143.2 59.6L143.0 59.4L142.8 59.1L142.6 58.9L142.3 58.6L142.1 58.3L141.8 58.1L141.6 57.8L141.3 57.6L141.1 57.3L140.8 57.1L140.6 56.9L140.3 56.6L140.1 56.4L139.8 56.1L139.5 55.9L139.2 55.6L138.9 55.4L138.6 55.1L138.3 54.9L138.1 54.7L137.8 54.5L137.6 54.4L137.2 54.1L136.9 53.9L136.6 53.6L136.3 53.5L136.1 53.3L135.8 53.1L135.4 52.9L135.1 52.7L134.8 52.5L134.6 52.4L134.2 52.1L133.8 51.9L133.6 51.8L133.3 51.6L132.8 51.4L132.6 51.3L132.3 51.1L131.8 50.9L131.6 50.8L131.3 50.6L130.8 50.4L130.6 50.3L130.1 50.1L129.8 50.0L129.5 49.9L129.1 49.7L128.8 49.6L128.3 49.4L128.1 49.3L127.6 49.2L127.3 49.1L126.8 48.9L126.6 48.9L126.1 48.7L125.6 48.6L125.3 48.5L124.8 48.4L124.6 48.4L124.1 48.3L123.6 48.2L123.2 48.1L122.8 48.1L122.3 48.0L121.8 47.9L121.3 47.9L121.1 47.9L120.6 47.8L120.1 47.8L119.6 47.8L119.1 47.8L118.6 47.8L118.1 47.8L117.6 47.8L117.1 47.9Z M108.5 47.4L108.8 47.3L109.3 47.4L109.5 47.6L109.3 48.1L109.1 48.4L109.0 48.6L108.8 48.9L108.6 49.2L108.3 49.5L108.1 49.8L107.9 50.1L107.7 50.4L107.6 50.6L107.3 51.0L107.1 51.4L107.0 51.6L106.8 51.9L106.6 52.4L106.5 52.6L106.3 53.1L106.2 53.4L106.1 53.8L106.0 54.1L105.8 54.6L105.7 54.9L105.6 55.4L105.6 55.6L105.5 56.1L105.4 56.6L105.3 57.1L105.3 57.4L105.3 57.9L105.2 58.4L105.2 58.9L105.2 59.4L105.2 59.9L105.2 60.4L105.3 60.9L105.3 61.2L105.4 61.6L105.4 62.1L105.5 62.6L105.6 62.9L105.7 63.4L105.8 63.9L105.8 64.1L106.0 64.6L106.1 65.0L106.2 65.4L106.3 65.8L106.4 66.1L106.6 66.5L106.7 66.9L106.8 67.1L107.0 67.6L107.1 67.9L107.3 68.3L107.5 68.6L107.6 68.9L107.8 69.3L108.0 69.6L108.1 69.9L108.3 70.4L108.5 70.6L108.6 70.9L108.8 71.3L109.0 71.6L109.1 71.9L109.3 72.4L109.4 72.6L109.6 73.1L109.1 73.2L108.8 73.1L108.5 72.9L108.2 72.6L107.8 72.4L107.6 72.1L107.3 71.9L107.1 71.7L106.8 71.4L106.6 71.2L106.3 70.9L106.1 70.6L105.9 70.4L105.7 70.1L105.5 69.9L105.3 69.6L105.1 69.3L104.8 69.0L104.6 68.6L104.4 68.4L104.3 68.1L104.1 67.8L103.8 67.4L103.7 67.1L103.6 66.9L103.3 66.4L103.2 66.1L103.1 65.9L102.9 65.4L102.8 65.1L102.6 64.7L102.5 64.4L102.3 63.9L102.2 63.6L102.1 63.1L102.0 62.9L101.9 62.4L101.8 62.0L101.7 61.6L101.7 61.1L101.6 60.6L101.6 60.4L101.5 59.9L101.5 59.4L101.5 58.9L101.5 58.4L101.5 57.9L101.6 57.4L101.6 57.1L101.6 56.6L101.7 56.1L101.8 55.6L101.9 55.4L102.0 54.9L102.1 54.6L102.2 54.1L102.3 53.8L102.5 53.4L102.6 53.1L102.8 52.6L102.9 52.4L103.1 52.1L103.3 51.6L103.5 51.4L103.6 51.1L103.8 50.8L104.1 50.5L104.3 50.2L104.6 49.9L104.8 49.6L105.1 49.4L105.3 49.1L105.6 48.9L105.8 48.7L106.1 48.5L106.3 48.3L106.7 48.1L107.1 47.9L107.3 47.8L107.7 47.6L108.1 47.5L108.5 47.4Z M145.3 58.9L145.6 58.7L145.9 58.9L146.3 59.1L146.6 59.3L146.8 59.5L147.1 59.7L147.3 59.9L147.6 60.2L147.8 60.4L148.1 60.7L148.3 60.9L148.6 61.2L148.8 61.5L149.1 61.8L149.3 62.1L149.5 62.4L149.7 62.6L149.9 62.9L150.1 63.2L150.3 63.5L150.5 63.9L150.7 64.1L150.8 64.4L151.1 64.8L151.2 65.1L151.4 65.4L151.6 65.8L151.7 66.1L151.8 66.4L152.0 66.9L152.1 67.1L152.3 67.6L152.4 67.9L152.6 68.4L152.6 68.6L152.8 69.1L152.8 69.4L153.0 69.9L153.1 70.4L153.1 70.6L153.2 71.1L153.2 71.6L153.3 72.1L153.3 72.6L153.3 73.1L153.3 73.6L153.3 74.1L153.2 74.6L153.2 75.1L153.1 75.6L153.1 75.9L153.0 76.4L152.9 76.9L152.8 77.1L152.7 77.6L152.6 77.9L152.4 78.4L152.3 78.6L152.1 79.1L152.0 79.4L151.8 79.7L151.6 80.1L151.5 80.4L151.3 80.6L151.1 81.0L150.8 81.4L150.6 81.6L150.4 81.9L150.2 82.1L150.0 82.4L149.7 82.6L149.5 82.9L149.2 83.1L148.9 83.4L148.6 83.6L148.3 83.8L148.1 83.9L147.7 84.1L147.3 84.3L147.1 84.4L146.6 84.6L146.3 84.6L145.8 84.7L145.5 84.6L145.3 84.4L145.4 84.1L145.6 83.8L145.8 83.4L146.0 83.1L146.2 82.9L146.4 82.6L146.6 82.4L146.8 82.0L147.1 81.6L147.2 81.4L147.4 81.1L147.6 80.8L147.8 80.4L147.9 80.1L148.1 79.9L148.3 79.4L148.4 79.1L148.6 78.7L148.7 78.4L148.8 77.9L148.9 77.6L149.1 77.1L149.1 76.9L149.2 76.4L149.3 75.9L149.4 75.6L149.4 75.1L149.5 74.6L149.5 74.1L149.6 73.6L149.6 73.2L149.6 72.9L149.6 72.4L149.6 72.1L149.5 71.6L149.5 71.1L149.5 70.6L149.4 70.1L149.3 69.6L149.3 69.4L149.2 68.9L149.1 68.4L149.0 68.1L148.9 67.6L148.8 67.4L148.7 66.9L148.6 66.5L148.4 66.1L148.3 65.8L148.2 65.4L148.1 65.1L147.9 64.6L147.8 64.4L147.6 63.9L147.4 63.6L147.3 63.4L147.1 62.9L147.0 62.6L146.8 62.3L146.6 61.9L146.5 61.6L146.3 61.4L146.1 60.9L146.0 60.6L145.8 60.4L145.6 59.9L145.5 59.6L145.3 59.3L145.3 58.9Z" fill="none" stroke="#8a8a84" stroke-width="1.3" stroke-linejoin="round"/>
<circle cx="111.0" cy="45.4" r="0.60" fill="none" stroke="#8a8a84" stroke-width="1.2"/>
<circle cx="119.0" cy="45.4" r="0.60" fill="none" stroke="#8a8a84" stroke-width="1.2"/>
<circle cx="139.0" cy="53.7" r="0.60" fill="none" stroke="#8a8a84" stroke-width="1.2"/>
<circle cx="146.7" cy="59.9" r="0.50" fill="none" stroke="#8a8a84" stroke-width="1.2"/>
<circle cx="116.6" cy="77.4" r="0.60" fill="none" stroke="#8a8a84" stroke-width="1.2"/>
<circle cx="110.6" cy="72.5" r="0.50" fill="none" stroke="#8a8a84" stroke-width="1.2"/>
</g>
<rect x="61.70" y="0.50" width="131.00" height="131.00" fill="none" stroke="#000" stroke-width="0.9"/>
<path d="M181.80 0.50v3.5M181.80 131.50v-3.5M61.70 120.60h3.5M192.70 120.60h-3.5" stroke="#fff" stroke-width="0.9"/>
<path d="M127.20 0.50v3.5M127.20 131.50v-3.5M61.70 66.00h3.5M192.70 66.00h-3.5" stroke="#fff" stroke-width="0.9"/>
<path d="M72.60 0.50v3.5M72.60 131.50v-3.5M61.70 11.40h3.5M192.70 11.40h-3.5" stroke="#fff" stroke-width="0.9"/>
<text x="40.88" y="15.25" font-size="11.00" textLength="16.62" lengthAdjust="spacingAndGlyphs">0.5</text>
<text x="64.29" y="143.50" font-size="11.00" textLength="16.62" lengthAdjust="spacingAndGlyphs">0.5</text>
<text x="40.88" y="69.85" font-size="11.00" textLength="16.62" lengthAdjust="spacingAndGlyphs">0.0</text>
<text x="118.89" y="143.50" font-size="11.00" textLength="16.62" lengthAdjust="spacingAndGlyphs">0.0</text>
<text x="32.12" y="124.45" font-size="11.00" textLength="25.38" lengthAdjust="spacingAndGlyphs">−0.5</text>
<text x="169.11" y="143.50" font-size="11.00" textLength="25.38" lengthAdjust="spacingAndGlyphs">−0.5</text>
<text x="111.57" y="158.9" font-size="11.00" textLength="31.26" lengthAdjust="spacingAndGlyphs">Δ<tspan font-style="italic">α</tspan> [<tspan dx="0.4">'</tspan><tspan dx="0.7">'</tspan><tspan dx="0.5">]</tspan></text>
<text transform="translate(25.3 66.00) rotate(-90)" x="-15.38" y="0" font-size="11.00" textLength="30.76" lengthAdjust="spacingAndGlyphs">Δ<tspan font-style="italic">δ</tspan> [<tspan dx="0.4">'</tspan><tspan dx="0.7">'</tspan><tspan dx="0.5">]</tspan></text>
<text x="145.65" y="22.30" font-size="11.00" fill="#fff" textLength="40.30" lengthAdjust="spacingAndGlyphs">1.1 mm</text>
<ellipse cx="74.75" cy="118.15" rx="1.95" ry="3.3" fill="#fff" transform="rotate(6 74.75 118.15)"/>
<rect x="200.10" y="0.30" width="8.90" height="131.30" fill="url(#cbg)" stroke="#000" stroke-width="0.9"/>
<text x="212.60" y="135.35" font-size="11.00" textLength="16.62" lengthAdjust="spacingAndGlyphs">0.0</text>
<path d="M209.00 103.70h-3.5" stroke="#000" stroke-width="0.9"/>
<text x="212.60" y="107.55" font-size="11.00" textLength="16.62" lengthAdjust="spacingAndGlyphs">0.2</text>
<path d="M209.00 75.90h-3.5" stroke="#000" stroke-width="0.9"/>
<text x="212.60" y="79.75" font-size="11.00" textLength="16.62" lengthAdjust="spacingAndGlyphs">0.4</text>
<path d="M209.00 48.20h-3.5" stroke="#000" stroke-width="0.9"/>
<text x="212.60" y="52.05" font-size="11.00" textLength="16.62" lengthAdjust="spacingAndGlyphs">0.6</text>
<path d="M209.00 20.40h-3.5" stroke="#000" stroke-width="0.9"/>
<text x="212.60" y="24.25" font-size="11.00" textLength="16.62" lengthAdjust="spacingAndGlyphs">0.8</text>
<text transform="translate(237.70 64.7) rotate(90)" x="-40.90" y="0" font-size="11.00" textLength="81.80" lengthAdjust="spacingAndGlyphs"><tspan font-style="italic">I</tspan><tspan font-style="italic" font-size="7.6" dy="1.6">ν</tspan><tspan dy="-1.6"> (mJy beam</tspan><tspan font-size="7.6" dy="-4.2">−1</tspan><tspan dy="4.2">)</tspan></text>
<g clip-path="url(#ic1)"><g filter="url(#cm1)">
<rect x="329.90" y="-9.50" width="151.00" height="151.00" fill="#0d0d0d"/>
<g transform="translate(405.60 66.00) rotate(33.00) scale(1 0.600)">
<circle r="90.00" fill="url(#rg1)"/>
</g>
<g transform="translate(405.60 66.00) rotate(28.00) scale(1.0300 0.6180)">
<circle r="46.00" fill="url(#rg1i)"/>
<ellipse cx="-26.00" cy="0" rx="12.00" ry="30.00" fill="url(#blobK)" opacity="0.050"/>
<ellipse cx="26.00" cy="0" rx="12.00" ry="30.00" fill="url(#blobK)" opacity="0.050"/>
</g>
<circle cx="405.40" cy="66.40" r="4.8" fill="url(#ps1)"/>
</g>
<path d="M385.5 48.1L385.8 48.0L386.3 47.9L386.8 47.9L387.3 48.0L387.4 48.4L387.3 48.7L387.0 49.1L386.8 49.4L386.6 49.6L386.4 49.9L386.2 50.1L386.0 50.4L385.8 50.8L385.5 51.1L385.3 51.4L385.2 51.6L385.0 51.9L384.8 52.3L384.6 52.6L384.5 52.9L384.3 53.3L384.1 53.6L384.0 53.9L383.8 54.4L383.7 54.6L383.6 55.1L383.5 55.4L383.4 55.9L383.3 56.3L383.2 56.6L383.1 57.1L383.0 57.6L383.0 57.9L383.0 58.4L383.0 58.9L382.9 59.4L382.9 59.9L383.0 60.4L383.0 60.9L383.0 61.2L383.1 61.6L383.1 62.1L383.2 62.6L383.3 62.9L383.4 63.4L383.5 63.9L383.5 64.1L383.7 64.6L383.8 64.9L383.9 65.4L384.0 65.7L384.1 66.1L384.3 66.5L384.4 66.9L384.5 67.1L384.7 67.6L384.8 67.9L385.0 68.4L385.1 68.6L385.3 69.0L385.4 69.4L385.5 69.6L385.7 70.1L385.8 70.4L385.9 70.9L385.8 71.1L385.5 71.1L385.1 70.9L384.8 70.6L384.5 70.4L384.3 70.2L384.0 69.9L383.8 69.7L383.5 69.4L383.3 69.1L383.1 68.9L382.9 68.6L382.7 68.4L382.5 68.1L382.3 67.7L382.0 67.4L381.9 67.1L381.7 66.9L381.5 66.5L381.3 66.1L381.2 65.9L381.0 65.5L380.8 65.1L380.7 64.9L380.5 64.4L380.4 64.1L380.3 63.7L380.2 63.4L380.0 62.9L379.9 62.6L379.8 62.1L379.7 61.9L379.6 61.4L379.5 60.9L379.5 60.6L379.4 60.1L379.4 59.6L379.4 59.1L379.3 58.6L379.3 58.1L379.3 57.6L379.4 57.1L379.4 56.6L379.5 56.1L379.5 55.9L379.6 55.4L379.7 54.9L379.8 54.6L380.0 54.1L380.1 53.9L380.2 53.4L380.4 53.1L380.5 52.7L380.7 52.4L380.9 52.1L381.0 51.8L381.3 51.4L381.5 51.1L381.7 50.9L381.9 50.6L382.1 50.4L382.4 50.1L382.6 49.9L382.9 49.6L383.2 49.4L383.5 49.1L383.8 49.0L384.0 48.8L384.3 48.6L384.8 48.4L385.0 48.3L385.5 48.1Z M425.5 60.9L425.6 60.9L426.0 61.1L426.3 61.2L426.5 61.4L426.8 61.7L427.0 61.9L427.3 62.2L427.5 62.4L427.8 62.7L428.0 63.0L428.3 63.3L428.5 63.6L428.7 63.9L428.8 64.1L429.0 64.4L429.3 64.8L429.5 65.1L429.6 65.4L429.8 65.7L430.0 66.1L430.1 66.4L430.3 66.7L430.5 67.1L430.6 67.4L430.8 67.9L430.9 68.1L431.0 68.6L431.1 68.9L431.3 69.4L431.3 69.6L431.5 70.1L431.5 70.5L431.6 70.9L431.7 71.4L431.8 71.9L431.8 72.1L431.8 72.6L431.9 73.1L431.9 73.6L431.9 74.1L431.8 74.6L431.8 75.1L431.8 75.4L431.7 75.9L431.6 76.4L431.5 76.8L431.5 77.1L431.3 77.6L431.2 77.9L431.1 78.4L431.0 78.6L430.8 79.0L430.6 79.4L430.5 79.6L430.3 80.0L430.0 80.4L429.9 80.6L429.7 80.9L429.5 81.1L429.3 81.4L429.0 81.7L428.8 81.9L428.5 82.2L428.3 82.4L428.0 82.6L427.7 82.9L427.3 83.1L427.0 83.3L426.8 83.4L426.4 83.6L426.0 83.8L425.7 83.9L425.3 84.0L424.8 84.1L424.3 84.1L423.8 83.9L423.9 83.4L424.0 83.1L424.3 82.8L424.5 82.4L424.8 82.1L425.0 81.9L425.1 81.6L425.3 81.4L425.5 81.1L425.8 80.7L426.0 80.4L426.2 80.1L426.3 79.9L426.5 79.5L426.7 79.1L426.9 78.9L427.0 78.5L427.2 78.1L427.3 77.9L427.5 77.4L427.6 77.1L427.7 76.6L427.8 76.4L427.9 75.9L428.0 75.4L428.0 75.1L428.1 74.6L428.2 74.1L428.2 73.6L428.2 73.1L428.3 72.6L428.3 72.1L428.2 71.6L428.2 71.1L428.2 70.6L428.1 70.1L428.0 69.7L428.0 69.4L427.9 68.9L427.8 68.4L427.7 68.1L427.6 67.6L427.5 67.4L427.4 66.9L427.3 66.6L427.1 66.1L427.0 65.8L426.9 65.4L426.8 65.1L426.6 64.6L426.5 64.4L426.3 63.9L426.2 63.6L426.0 63.2L425.9 62.9L425.8 62.6L425.6 62.1L425.5 61.9L425.4 61.4L425.5 60.9Z M383.4 50.9L383.8 50.8L384.0 50.9L384.1 51.4L384.0 51.8L383.9 52.1L383.8 52.6L383.7 52.9L383.5 53.4L383.5 53.6L383.3 54.1L383.2 54.4L383.1 54.9L383.0 55.3L382.9 55.6L382.8 56.1L382.8 56.5L382.7 56.9L382.6 57.4L382.6 57.9L382.6 58.4L382.5 58.9L382.5 59.2L382.5 59.6L382.5 60.1L382.5 60.4L382.5 60.9L382.6 61.4L382.6 61.9L382.7 62.4L382.7 62.9L382.8 63.2L382.8 63.6L382.9 64.1L383.0 64.6L383.0 65.1L383.0 65.4L383.0 65.8L382.8 66.1L382.5 65.9L382.2 65.6L382.0 65.4L381.8 65.0L381.6 64.6L381.4 64.4L381.3 64.1L381.1 63.6L381.0 63.4L380.8 62.9L380.7 62.6L380.5 62.1L380.5 61.9L380.3 61.4L380.3 61.1L380.2 60.6L380.1 60.1L380.0 59.6L380.0 59.4L380.0 58.9L380.0 58.4L380.0 57.9L380.0 57.4L380.0 57.1L380.1 56.6L380.2 56.1L380.3 55.6L380.3 55.4L380.5 54.9L380.6 54.6L380.7 54.1L380.9 53.9L381.0 53.5L381.2 53.1L381.4 52.9L381.5 52.6L381.8 52.3L382.0 52.0L382.3 51.7L382.5 51.5L382.8 51.3L383.0 51.1L383.4 50.9Z M428.2 66.1L428.5 66.0L428.8 66.2L429.0 66.5L429.3 66.8L429.5 67.1L429.6 67.4L429.8 67.6L430.0 68.1L430.1 68.4L430.3 68.7L430.4 69.1L430.5 69.4L430.7 69.9L430.8 70.3L430.9 70.6L431.0 71.1L431.0 71.4L431.1 71.9L431.2 72.4L431.2 72.9L431.2 73.4L431.2 73.9L431.2 74.4L431.2 74.9L431.1 75.4L431.0 75.9L431.0 76.1L430.9 76.6L430.8 77.0L430.6 77.4L430.5 77.7L430.3 78.1L430.2 78.4L430.0 78.8L429.8 79.1L429.7 79.4L429.5 79.6L429.3 79.9L429.0 80.2L428.8 80.4L428.5 80.7L428.2 80.9L427.8 81.1L427.5 81.2L427.2 81.1L427.1 80.6L427.2 80.1L427.3 79.8L427.4 79.4L427.5 79.0L427.7 78.6L427.8 78.2L427.9 77.9L428.0 77.4L428.1 77.1L428.2 76.6L428.3 76.3L428.4 75.9L428.4 75.4L428.5 74.9L428.5 74.6L428.6 74.1L428.6 73.6L428.7 73.1L428.7 72.6L428.7 72.1L428.7 71.6L428.7 71.1L428.6 70.6L428.6 70.1L428.5 69.6L428.5 69.4L428.4 68.9L428.4 68.4L428.3 67.9L428.3 67.6L428.2 67.1L428.2 66.6L428.2 66.1Z" fill="none" stroke="#8a8a84" stroke-width="1.3" stroke-linejoin="round"/>
<circle cx="383.6" cy="67.6" r="1.30" fill="none" stroke="#8a8a84" stroke-width="1.2"/>
<circle cx="421.1" cy="86.3" r="0.90" fill="none" stroke="#8a8a84" stroke-width="1.2"/>
<ellipse cx="422.8" cy="60.0" rx="1.3" ry="3.6" transform="rotate(-40 422.8 60.0)" fill="none" stroke="#8a8a84" stroke-width="1.2"/>
</g>
<rect x="339.90" y="0.50" width="131.00" height="131.00" fill="none" stroke="#000" stroke-width="0.9"/>
<path d="M460.00 0.50v3.5M460.00 131.50v-3.5M339.90 120.60h3.5M470.90 120.60h-3.5" stroke="#fff" stroke-width="0.9"/>
<path d="M405.40 0.50v3.5M405.40 131.50v-3.5M339.90 66.00h3.5M470.90 66.00h-3.5" stroke="#fff" stroke-width="0.9"/>
<path d="M350.80 0.50v3.5M350.80 131.50v-3.5M339.90 11.40h3.5M470.90 11.40h-3.5" stroke="#fff" stroke-width="0.9"/>
<text x="319.08" y="15.25" font-size="11.00" textLength="16.62" lengthAdjust="spacingAndGlyphs">0.5</text>
<text x="342.49" y="143.50" font-size="11.00" textLength="16.62" lengthAdjust="spacingAndGlyphs">0.5</text>
<text x="319.08" y="69.85" font-size="11.00" textLength="16.62" lengthAdjust="spacingAndGlyphs">0.0</text>
<text x="397.09" y="143.50" font-size="11.00" textLength="16.62" lengthAdjust="spacingAndGlyphs">0.0</text>
<text x="310.32" y="124.45" font-size="11.00" textLength="25.38" lengthAdjust="spacingAndGlyphs">−0.5</text>
<text x="447.31" y="143.50" font-size="11.00" textLength="25.38" lengthAdjust="spacingAndGlyphs">−0.5</text>
<text x="389.77" y="158.9" font-size="11.00" textLength="31.26" lengthAdjust="spacingAndGlyphs">Δ<tspan font-style="italic">α</tspan> [<tspan dx="0.4">'</tspan><tspan dx="0.7">'</tspan><tspan dx="0.5">]</tspan></text>
<text transform="translate(303.50 66.00) rotate(-90)" x="-15.38" y="0" font-size="11.00" textLength="30.76" lengthAdjust="spacingAndGlyphs">Δ<tspan font-style="italic">δ</tspan> [<tspan dx="0.4">'</tspan><tspan dx="0.7">'</tspan><tspan dx="0.5">]</tspan></text>
<text x="423.85" y="22.30" font-size="11.00" fill="#fff" textLength="40.30" lengthAdjust="spacingAndGlyphs">2.1 mm</text>
<ellipse cx="352.95" cy="118.15" rx="1.95" ry="3.3" fill="#fff" transform="rotate(6 352.95 118.15)"/>
<rect x="478.30" y="0.30" width="8.90" height="131.30" fill="url(#cbg)" stroke="#000" stroke-width="0.9"/>
<text x="490.80" y="135.45" font-size="11.00" textLength="16.62" lengthAdjust="spacingAndGlyphs">0.0</text>
<path d="M487.20 104.80h-3.5" stroke="#000" stroke-width="0.9"/>
<text x="490.80" y="108.65" font-size="11.00" textLength="16.62" lengthAdjust="spacingAndGlyphs">0.1</text>
<path d="M487.20 78.00h-3.5" stroke="#000" stroke-width="0.9"/>
<text x="490.80" y="81.85" font-size="11.00" textLength="16.62" lengthAdjust="spacingAndGlyphs">0.2</text>
<path d="M487.20 51.20h-3.5" stroke="#000" stroke-width="0.9"/>
<text x="490.80" y="55.05" font-size="11.00" textLength="16.62" lengthAdjust="spacingAndGlyphs">0.3</text>
<path d="M487.20 24.35h-3.5" stroke="#000" stroke-width="0.9"/>
<text x="490.80" y="28.20" font-size="11.00" textLength="16.62" lengthAdjust="spacingAndGlyphs">0.4</text>
<text transform="translate(515.90 64.7) rotate(90)" x="-40.90" y="0" font-size="11.00" textLength="81.80" lengthAdjust="spacingAndGlyphs"><tspan font-style="italic">I</tspan><tspan font-style="italic" font-size="7.6" dy="1.6">ν</tspan><tspan dy="-1.6"> (mJy beam</tspan><tspan font-size="7.6" dy="-4.2">−1</tspan><tspan dy="4.2">)</tspan></text>
<g clip-path="url(#clp0)">
<polygon points="42.60,313.06 42.97,312.81 43.34,312.54 43.71,312.25 44.08,311.95 44.45,311.65 44.83,311.33 45.20,311.00 45.57,310.67 45.94,310.32 46.31,309.96 46.68,309.59 47.05,309.21 47.42,308.81 47.79,308.42 48.16,308.01 48.54,307.60 48.91,307.19 49.28,306.78 49.65,306.35 50.02,305.90 50.39,305.44 50.76,304.96 51.13,304.47 51.50,303.96 51.88,303.44 52.25,302.90 52.62,302.35 52.99,301.76 53.36,301.16 53.73,300.52 54.10,299.86 54.47,299.18 54.84,298.47 55.21,297.74 55.59,296.99 55.96,296.22 56.33,295.41 56.70,294.54 57.07,293.61 57.44,292.60 57.81,291.48 58.18,290.26 58.55,288.94 58.92,287.51 59.30,285.99 59.67,284.39 60.04,282.62 60.41,280.70 60.78,278.65 61.15,276.51 61.52,274.29 61.89,271.91 62.26,269.41 62.63,266.85 63.01,264.29 63.38,261.74 63.75,259.18 64.12,256.59 64.49,253.97 64.86,251.33 65.23,248.63 65.60,245.88 65.97,243.17 66.34,240.53 66.72,237.92 67.09,235.34 67.46,232.79 67.83,230.29 68.20,227.82 68.57,225.39 68.94,222.98 69.31,220.63 69.68,218.35 70.05,216.15 70.42,214.04 70.80,211.98 71.17,209.98 71.54,208.02 71.91,206.05 72.28,204.07 72.65,202.12 73.02,200.27 73.39,198.56 73.76,197.04 74.14,195.67 74.51,194.34 74.88,193.14 75.25,192.14 75.62,191.43 75.99,190.89 76.36,190.41 76.73,190.03 77.10,189.78 77.47,189.72 77.84,189.76 78.22,189.85 78.59,189.99 78.96,190.15 79.33,190.33 79.70,190.52 80.07,190.72 80.44,190.95 80.81,191.20 81.18,191.48 81.56,191.78 81.93,192.11 82.30,192.46 82.67,192.82 83.04,193.21 83.41,193.65 83.78,194.14 84.15,194.68 84.52,195.25 84.89,195.85 85.27,196.45 85.64,197.04 86.01,197.62 86.38,198.19 86.75,198.77 87.12,199.35 87.49,199.95 87.86,200.55 88.23,201.18 88.60,201.82 88.97,202.49 89.35,203.18 89.72,203.88 90.09,204.60 90.46,205.33 90.83,206.08 91.20,206.85 91.57,207.64 91.94,208.45 92.31,209.28 92.69,210.12 93.06,210.99 93.43,211.88 93.80,212.80 94.17,213.77 94.54,214.77 94.91,215.81 95.28,216.89 95.65,217.99 96.02,219.11 96.39,220.25 96.77,221.41 97.14,222.58 97.51,223.77 97.88,224.98 98.25,226.23 98.62,227.51 98.99,228.81 99.36,230.14 99.73,231.49 100.11,232.85 100.48,234.22 100.85,235.60 101.22,237.00 101.59,238.44 101.96,239.89 102.33,241.35 102.70,242.83 103.07,244.31 103.44,245.78 103.81,247.26 104.19,248.72 104.56,250.18 104.93,251.67 105.30,253.15 105.67,254.63 106.04,256.09 106.41,257.51 106.78,258.89 107.15,260.22 107.53,261.52 107.90,262.79 108.27,264.04 108.64,265.28 109.01,266.50 109.38,267.73 109.75,268.95 110.12,270.19 110.49,271.42 110.86,272.65 111.24,273.86 111.61,275.06 111.98,276.24 112.35,277.39 112.72,278.51 113.09,279.61 113.46,280.70 113.83,281.77 114.20,282.83 114.57,283.86 114.94,284.87 115.32,285.84 115.69,286.78 116.06,287.67 116.43,288.53 116.80,289.36 117.17,290.18 117.54,290.97 117.91,291.73 118.28,292.48 118.66,293.20 119.03,293.90 119.40,294.57 119.77,295.23 120.14,295.86 120.51,296.48 120.88,297.08 121.25,297.66 121.62,298.23 121.99,298.79 122.37,299.32 122.74,299.84 123.11,300.33 123.48,300.81 123.85,301.27 124.22,301.72 124.59,302.16 124.96,302.60 125.33,303.02 125.70,303.42 126.08,303.81 126.45,304.17 126.82,304.51 127.19,304.83 127.56,305.11 127.93,305.38 128.30,305.66 128.67,305.94 129.04,306.20 129.41,306.43 129.78,306.63 130.16,306.77 130.53,306.84 130.90,306.85 131.27,306.85 131.64,306.85 132.01,306.85 132.38,306.85 132.75,306.85 133.12,306.85 133.50,306.81 133.87,306.69 134.24,306.50 134.61,306.27 134.98,306.00 135.35,305.70 135.72,305.40 136.09,305.03 136.46,304.56 136.83,304.00 137.21,303.38 137.58,302.74 137.95,302.08 138.32,301.44 138.69,300.77 139.06,300.06 139.43,299.33 139.80,298.58 140.17,297.82 140.54,297.06 140.92,296.30 141.29,295.55 141.66,294.80 142.03,294.04 142.40,293.27 142.77,292.49 143.14,291.68 143.51,290.85 143.88,289.99 144.25,289.10 144.62,288.17 145.00,287.23 145.37,286.26 145.74,285.28 146.11,284.29 146.48,283.29 146.85,282.27 147.22,281.21 147.59,280.14 147.96,279.06 148.33,277.99 148.71,276.97 149.08,275.99 149.45,275.06 149.82,274.15 150.19,273.27 150.56,272.41 150.93,271.58 151.30,270.76 151.67,269.95 152.04,269.16 152.42,268.38 152.79,267.61 153.16,266.86 153.53,266.13 153.90,265.43 154.27,264.76 154.64,264.12 155.01,263.48 155.38,262.85 155.75,262.23 156.13,261.64 156.50,261.08 156.87,260.57 157.24,260.12 157.61,259.73 157.98,259.38 158.35,259.03 158.72,258.68 159.09,258.37 159.47,258.09 159.84,257.86 160.21,257.69 160.58,257.60 160.95,257.59 161.32,257.62 161.69,257.68 162.06,257.76 162.43,257.87 162.80,257.99 163.18,258.13 163.55,258.28 163.92,258.45 164.29,258.68 164.66,258.97 165.03,259.30 165.40,259.68 165.77,260.10 166.14,260.54 166.51,260.99 166.89,261.48 167.26,262.05 167.63,262.68 168.00,263.35 168.37,264.06 168.74,264.78 169.11,265.50 169.48,266.26 169.85,267.06 170.22,267.89 170.59,268.73 170.97,269.58 171.34,270.40 171.71,271.21 172.08,272.02 172.45,272.82 172.82,273.63 173.19,274.43 173.56,275.23 173.93,276.03 174.30,276.84 174.68,277.64 175.05,278.45 175.42,279.28 175.79,280.13 176.16,280.99 176.53,281.84 176.90,282.68 177.27,283.50 177.64,284.30 178.01,285.06 178.39,285.77 178.76,286.45 179.13,287.11 179.50,287.75 179.87,288.37 180.24,288.97 180.61,289.56 180.98,290.14 181.35,290.70 181.72,291.26 182.10,291.80 182.47,292.34 182.84,292.88 183.21,293.41 183.58,293.93 183.95,294.45 184.32,294.96 184.69,295.46 185.06,295.95 185.44,296.43 185.81,296.90 186.18,297.35 186.55,297.79 186.92,298.22 187.29,298.63 187.66,299.03 188.03,299.42 188.40,299.81 188.77,300.19 189.15,300.56 189.52,300.91 189.89,301.26 190.26,301.59 190.63,301.90 191.00,302.21 191.37,302.49 191.74,302.76 192.11,303.03 192.48,303.29 192.86,303.53 193.23,303.77 193.60,304.01 193.97,304.23 194.34,304.44 194.71,304.64 195.08,304.84 195.45,305.02 195.82,305.19 196.19,305.37 196.56,305.54 196.94,305.70 197.31,305.87 197.68,306.02 198.05,306.17 198.42,306.31 198.79,306.45 199.16,306.57 199.53,306.68 199.90,306.77 200.27,306.85 200.65,306.92 201.02,307.00 201.39,307.07 201.76,307.14 202.13,307.20 202.50,307.27 202.87,307.32 203.24,307.38 203.61,307.43 203.98,307.47 204.36,307.51 204.73,307.54 205.10,307.56 205.47,307.57 205.84,307.58 206.21,307.58 206.58,307.57 206.95,307.56 207.32,307.55 207.69,307.54 208.07,307.52 208.44,307.50 208.81,307.48 209.18,307.46 209.55,307.43 209.92,307.40 210.29,307.34 210.66,307.26 211.03,307.18 211.41,307.09 211.78,307.01 212.15,306.94 212.52,306.89 212.89,306.86 213.26,306.85 213.63,306.86 214.00,306.88 214.37,306.91 214.74,306.94 215.12,306.97 215.49,307.00 215.86,307.04 216.23,307.08 216.60,307.11 216.97,307.14 217.34,307.17 217.71,307.21 218.08,307.25 218.45,307.29 218.82,307.32 219.20,307.36 219.57,307.39 219.94,307.41 220.31,307.43 220.68,307.43 221.05,307.43 221.42,307.42 221.79,307.40 222.16,307.38 222.53,307.36 222.91,307.34 223.28,307.32 223.65,307.30 224.02,307.29 224.39,307.29 224.76,307.29 225.13,307.29 225.50,307.29 225.87,307.29 226.25,307.29 226.62,307.29 226.99,307.29 227.36,307.29 227.73,307.29 228.10,307.29 228.10,308.45 227.73,308.45 227.36,308.45 226.99,308.45 226.62,308.45 226.25,308.45 225.87,308.45 225.50,308.45 225.13,308.45 224.76,308.45 224.39,308.45 224.02,308.45 223.65,308.47 223.28,308.48 222.91,308.50 222.53,308.52 222.16,308.54 221.79,308.56 221.42,308.58 221.05,308.59 220.68,308.60 220.31,308.59 219.94,308.57 219.57,308.55 219.20,308.52 218.82,308.49 218.45,308.45 218.08,308.41 217.71,308.37 217.34,308.34 216.97,308.31 216.60,308.27 216.23,308.24 215.86,308.20 215.49,308.17 215.12,308.13 214.74,308.10 214.37,308.07 214.00,308.04 213.63,308.03 213.26,308.02 212.89,308.02 212.52,308.05 212.15,308.10 211.78,308.17 211.41,308.26 211.03,308.34 210.66,308.43 210.29,308.50 209.92,308.56 209.55,308.60 209.18,308.62 208.81,308.64 208.44,308.66 208.07,308.68 207.69,308.70 207.32,308.71 206.95,308.72 206.58,308.73 206.21,308.74 205.84,308.74 205.47,308.74 205.10,308.72 204.73,308.70 204.36,308.67 203.98,308.63 203.61,308.59 203.24,308.54 202.87,308.49 202.50,308.43 202.13,308.37 201.76,308.30 201.39,308.23 201.02,308.16 200.65,308.09 200.27,308.01 199.90,307.93 199.53,307.84 199.16,307.73 198.79,307.61 198.42,307.48 198.05,307.34 197.68,307.19 197.31,307.03 196.94,306.87 196.56,306.70 196.19,306.53 195.82,306.36 195.45,306.18 195.08,306.00 194.71,305.81 194.34,305.60 193.97,305.39 193.60,305.17 193.23,304.94 192.86,304.70 192.48,304.45 192.11,304.19 191.74,303.93 191.37,303.65 191.00,303.37 190.63,303.07 190.26,302.75 189.89,302.42 189.52,302.08 189.15,301.72 188.77,301.35 188.40,300.97 188.03,300.59 187.66,300.19 187.29,299.79 186.92,299.38 186.55,298.95 186.18,298.51 185.81,298.06 185.44,297.59 185.06,297.11 184.69,296.62 184.32,296.12 183.95,295.61 183.58,295.09 183.21,294.57 182.84,294.04 182.47,293.50 182.10,292.97 181.72,292.42 181.35,291.87 180.98,291.30 180.61,290.73 180.24,290.14 179.87,289.54 179.50,288.92 179.13,288.28 178.76,287.62 178.39,286.95 178.01,286.23 177.64,285.48 177.27,284.68 176.90,283.87 176.53,283.03 176.16,282.18 175.79,281.33 175.42,280.49 175.05,279.67 174.68,278.87 174.30,278.08 173.93,277.29 173.56,276.50 173.19,275.71 172.82,274.93 172.45,274.14 172.08,273.36 171.71,272.58 171.34,271.80 170.97,271.00 170.59,270.19 170.22,269.37 169.85,268.58 169.48,267.82 169.11,267.10 168.74,266.42 168.37,265.74 168.00,265.08 167.63,264.45 167.26,263.87 166.89,263.35 166.51,262.90 166.14,262.50 165.77,262.10 165.40,261.74 165.03,261.40 164.66,261.10 164.29,260.85 163.92,260.66 163.55,260.52 163.18,260.40 162.80,260.28 162.43,260.17 162.06,260.08 161.69,260.00 161.32,259.94 160.95,259.91 160.58,259.92 160.21,259.99 159.84,260.14 159.47,260.35 159.09,260.60 158.72,260.89 158.35,261.20 157.98,261.51 157.61,261.83 157.24,262.17 156.87,262.58 156.50,263.04 156.13,263.55 155.75,264.10 155.38,264.67 155.01,265.25 154.64,265.84 154.27,266.44 153.90,267.07 153.53,267.73 153.16,268.42 152.79,269.13 152.42,269.86 152.04,270.61 151.67,271.37 151.30,272.15 150.93,272.94 150.56,273.76 150.19,274.59 149.82,275.45 149.45,276.34 149.08,277.26 148.71,278.22 148.33,279.23 147.96,280.28 147.59,281.35 147.22,282.42 146.85,283.47 146.48,284.49 146.11,285.48 145.74,286.46 145.37,287.44 145.00,288.40 144.62,289.35 144.25,290.27 143.88,291.16 143.51,292.02 143.14,292.85 142.77,293.65 142.40,294.44 142.03,295.21 141.66,295.96 141.29,296.72 140.92,297.47 140.54,298.22 140.17,298.98 139.80,299.74 139.43,300.49 139.06,301.23 138.69,301.93 138.32,302.61 137.95,303.25 137.58,303.90 137.21,304.54 136.83,305.16 136.46,305.72 136.09,306.19 135.72,306.56 135.35,306.87 134.98,307.16 134.61,307.43 134.24,307.67 133.87,307.85 133.50,307.97 133.12,308.01 132.75,308.01 132.38,308.01 132.01,308.01 131.64,308.01 131.27,308.01 130.90,308.01 130.53,308.00 130.16,307.93 129.78,307.79 129.41,307.60 129.04,307.36 128.67,307.10 128.30,306.83 127.93,306.54 127.56,306.27 127.19,305.99 126.82,305.68 126.45,305.34 126.08,304.97 125.70,304.59 125.33,304.18 124.96,303.76 124.59,303.32 124.22,302.88 123.85,302.43 123.48,301.97 123.11,301.49 122.74,301.00 122.37,300.48 121.99,299.95 121.62,299.40 121.25,298.83 120.88,298.24 120.51,297.64 120.14,297.02 119.77,296.39 119.40,295.74 119.03,295.06 118.66,294.36 118.28,293.64 117.91,292.90 117.54,292.13 117.17,291.34 116.80,290.52 116.43,289.69 116.06,288.83 115.69,287.94 115.32,287.00 114.94,286.03 114.57,285.03 114.20,283.99 113.83,282.94 113.46,281.86 113.09,280.77 112.72,279.67 112.35,278.56 111.98,277.40 111.61,276.23 111.24,275.03 110.86,273.81 110.49,272.58 110.12,271.35 109.75,270.12 109.38,268.89 109.01,267.66 108.64,266.44 108.27,265.20 107.90,263.95 107.53,262.68 107.15,261.39 106.78,260.05 106.41,258.68 106.04,257.25 105.67,255.80 105.30,254.32 104.93,252.83 104.56,251.35 104.19,249.88 103.81,248.42 103.44,246.95 103.07,245.47 102.70,243.99 102.33,242.52 101.96,241.05 101.59,239.60 101.22,238.17 100.85,236.77 100.48,235.39 100.11,234.02 99.73,232.67 99.36,231.32 98.99,230.00 98.62,228.69 98.25,227.42 97.88,226.18 97.51,224.97 97.14,223.79 96.77,222.63 96.39,221.48 96.02,220.35 95.65,219.24 95.28,218.16 94.91,217.11 94.54,216.09 94.17,215.10 93.80,214.16 93.43,213.27 93.06,212.41 92.69,211.58 92.31,210.78 91.94,210.00 91.57,209.24 91.20,208.51 90.83,207.80 90.46,207.11 90.09,206.45 89.72,205.81 89.35,205.19 88.97,204.59 88.60,204.02 88.23,203.47 87.86,202.96 87.49,202.46 87.12,201.98 86.75,201.52 86.38,201.07 86.01,200.63 85.64,200.18 85.27,199.73 84.89,199.27 84.52,198.81 84.15,198.38 83.78,197.98 83.41,197.63 83.04,197.33 82.67,197.07 82.30,196.84 81.93,196.61 81.56,196.40 81.18,196.21 80.81,196.03 80.44,195.87 80.07,195.72 79.70,195.59 79.33,195.46 78.96,195.32 78.59,195.19 78.22,195.08 77.84,194.99 77.47,194.94 77.10,194.99 76.73,195.20 76.36,195.54 75.99,195.96 75.62,196.43 75.25,197.06 74.88,197.97 74.51,199.07 74.14,200.28 73.76,201.54 73.39,202.94 73.02,204.52 72.65,206.24 72.28,208.05 71.91,209.89 71.54,211.72 71.17,213.54 70.80,215.40 70.42,217.32 70.05,219.30 69.68,221.36 69.31,223.51 68.94,225.74 68.57,228.02 68.20,230.34 67.83,232.69 67.46,235.10 67.09,237.54 66.72,240.03 66.34,242.56 65.97,245.12 65.60,247.76 65.23,250.44 64.86,253.08 64.49,255.67 64.12,258.25 63.75,260.80 63.38,263.33 63.01,265.85 62.63,268.39 62.26,270.95 61.89,273.44 61.52,275.82 61.15,278.05 60.78,280.21 60.41,282.29 60.04,284.24 59.67,286.04 59.30,287.70 58.92,289.27 58.55,290.76 58.18,292.16 57.81,293.46 57.44,294.66 57.07,295.76 56.70,296.80 56.33,297.78 55.96,298.71 55.59,299.60 55.21,300.47 54.84,301.34 54.47,302.18 54.10,303.00 53.73,303.80 53.36,304.58 52.99,305.33 52.62,306.04 52.25,306.73 51.88,307.39 51.50,308.04 51.13,308.66 50.76,309.25 50.39,309.82 50.02,310.36 49.65,310.88 49.28,311.36 48.91,311.81 48.54,312.25 48.16,312.66 47.79,313.06 47.42,313.43 47.05,313.79 46.68,314.12 46.31,314.42 45.94,314.70 45.57,314.96 45.20,315.19 44.83,315.40 44.45,315.60 44.08,315.78 43.71,315.95 43.34,316.10 42.97,316.23 42.60,316.34" fill="#2a78f0" fill-opacity="0.28"/>
<polyline points="42.60,314.70 42.97,314.52 43.34,314.32 43.71,314.10 44.08,313.87 44.45,313.62 44.83,313.37 45.20,313.10 45.57,312.81 45.94,312.51 46.31,312.19 46.68,311.85 47.05,311.50 47.42,311.12 47.79,310.74 48.16,310.34 48.54,309.93 48.91,309.50 49.28,309.07 49.65,308.61 50.02,308.13 50.39,307.63 50.76,307.11 51.13,306.56 51.50,306.00 51.88,305.42 52.25,304.82 52.62,304.20 52.99,303.55 53.36,302.87 53.73,302.16 54.10,301.43 54.47,300.68 54.84,299.90 55.21,299.11 55.59,298.30 55.96,297.46 56.33,296.59 56.70,295.67 57.07,294.69 57.44,293.63 57.81,292.47 58.18,291.21 58.55,289.85 58.92,288.39 59.30,286.85 59.67,285.22 60.04,283.43 60.41,281.49 60.78,279.43 61.15,277.28 61.52,275.06 61.89,272.68 62.26,270.18 62.63,267.62 63.01,265.07 63.38,262.54 63.75,259.99 64.12,257.42 64.49,254.82 64.86,252.21 65.23,249.53 65.60,246.82 65.97,244.14 66.34,241.54 66.72,238.98 67.09,236.44 67.46,233.94 67.83,231.49 68.20,229.08 68.57,226.70 68.94,224.36 69.31,222.07 69.68,219.85 70.05,217.73 70.42,215.68 70.80,213.69 71.17,211.76 71.54,209.87 71.91,207.97 72.28,206.06 72.65,204.18 73.02,202.39 73.39,200.75 73.76,199.29 74.14,197.97 74.51,196.70 74.88,195.55 75.25,194.60 75.62,193.93 75.99,193.43 76.36,192.97 76.73,192.61 77.10,192.39 77.47,192.33 77.84,192.37 78.22,192.46 78.59,192.59 78.96,192.74 79.33,192.90 79.70,193.06 80.07,193.22 80.44,193.41 80.81,193.62 81.18,193.85 81.56,194.09 81.93,194.36 82.30,194.65 82.67,194.95 83.04,195.27 83.41,195.64 83.78,196.06 84.15,196.53 84.52,197.03 84.89,197.56 85.27,198.09 85.64,198.61 86.01,199.12 86.38,199.63 86.75,200.15 87.12,200.67 87.49,201.20 87.86,201.76 88.23,202.33 88.60,202.92 88.97,203.54 89.35,204.18 89.72,204.84 90.09,205.52 90.46,206.22 90.83,206.94 91.20,207.68 91.57,208.44 91.94,209.22 92.31,210.03 92.69,210.85 93.06,211.70 93.43,212.57 93.80,213.48 94.17,214.44 94.54,215.43 94.91,216.46 95.28,217.52 95.65,218.61 96.02,219.73 96.39,220.87 96.77,222.02 97.14,223.19 97.51,224.37 97.88,225.58 98.25,226.82 98.62,228.10 98.99,229.41 99.36,230.73 99.73,232.08 100.11,233.44 100.48,234.81 100.85,236.18 101.22,237.59 101.59,239.02 101.96,240.47 102.33,241.93 102.70,243.41 103.07,244.89 103.44,246.37 103.81,247.84 104.19,249.30 104.56,250.77 104.93,252.25 105.30,253.74 105.67,255.21 106.04,256.67 106.41,258.10 106.78,259.47 107.15,260.80 107.53,262.10 107.90,263.37 108.27,264.62 108.64,265.86 109.01,267.08 109.38,268.31 109.75,269.53 110.12,270.77 110.49,272.00 110.86,273.23 111.24,274.44 111.61,275.64 111.98,276.82 112.35,277.97 112.72,279.09 113.09,280.19 113.46,281.28 113.83,282.36 114.20,283.41 114.57,284.44 114.94,285.45 115.32,286.42 115.69,287.36 116.06,288.25 116.43,289.11 116.80,289.94 117.17,290.76 117.54,291.55 117.91,292.31 118.28,293.06 118.66,293.78 119.03,294.48 119.40,295.15 119.77,295.81 120.14,296.44 120.51,297.06 120.88,297.66 121.25,298.25 121.62,298.82 121.99,299.37 122.37,299.90 122.74,300.42 123.11,300.91 123.48,301.39 123.85,301.85 124.22,302.30 124.59,302.74 124.96,303.18 125.33,303.60 125.70,304.00 126.08,304.39 126.45,304.76 126.82,305.10 127.19,305.41 127.56,305.69 127.93,305.96 128.30,306.24 128.67,306.52 129.04,306.78 129.41,307.01 129.78,307.21 130.16,307.35 130.53,307.42 130.90,307.43 131.27,307.43 131.64,307.43 132.01,307.43 132.38,307.43 132.75,307.43 133.12,307.43 133.50,307.39 133.87,307.27 134.24,307.09 134.61,306.85 134.98,306.58 135.35,306.28 135.72,305.98 136.09,305.61 136.46,305.14 136.83,304.58 137.21,303.96 137.58,303.32 137.95,302.67 138.32,302.03 138.69,301.35 139.06,300.64 139.43,299.91 139.80,299.16 140.17,298.40 140.54,297.64 140.92,296.88 141.29,296.13 141.66,295.38 142.03,294.62 142.40,293.85 142.77,293.07 143.14,292.27 143.51,291.44 143.88,290.58 144.25,289.68 144.62,288.76 145.00,287.82 145.37,286.85 145.74,285.87 146.11,284.88 146.48,283.89 146.85,282.87 147.22,281.82 147.59,280.74 147.96,279.67 148.33,278.61 148.71,277.59 149.08,276.62 149.45,275.70 149.82,274.80 150.19,273.93 150.56,273.09 150.93,272.26 151.30,271.45 151.67,270.66 152.04,269.89 152.42,269.12 152.79,268.37 153.16,267.64 153.53,266.93 153.90,266.25 154.27,265.60 154.64,264.98 155.01,264.37 155.38,263.76 155.75,263.16 156.13,262.60 156.50,262.06 156.87,261.58 157.24,261.15 157.61,260.78 157.98,260.45 158.35,260.11 158.72,259.79 159.09,259.48 159.47,259.22 159.84,259.00 160.21,258.84 160.58,258.76 160.95,258.75 161.32,258.78 161.69,258.84 162.06,258.92 162.43,259.02 162.80,259.14 163.18,259.26 163.55,259.40 163.92,259.55 164.29,259.76 164.66,260.03 165.03,260.35 165.40,260.71 165.77,261.10 166.14,261.52 166.51,261.94 166.89,262.42 167.26,262.96 167.63,263.57 168.00,264.22 168.37,264.90 168.74,265.60 169.11,266.30 169.48,267.04 169.85,267.82 170.22,268.63 170.59,269.46 170.97,270.29 171.34,271.10 171.71,271.90 172.08,272.69 172.45,273.48 172.82,274.28 173.19,275.07 173.56,275.86 173.93,276.66 174.30,277.46 174.68,278.26 175.05,279.06 175.42,279.89 175.79,280.73 176.16,281.58 176.53,282.43 176.90,283.27 177.27,284.09 177.64,284.89 178.01,285.65 178.39,286.36 178.76,287.04 179.13,287.69 179.50,288.33 179.87,288.95 180.24,289.56 180.61,290.14 180.98,290.72 181.35,291.28 181.72,291.84 182.10,292.38 182.47,292.92 182.84,293.46 183.21,293.99 183.58,294.51 183.95,295.03 184.32,295.54 184.69,296.04 185.06,296.53 185.44,297.01 185.81,297.48 186.18,297.93 186.55,298.37 186.92,298.80 187.29,299.21 187.66,299.61 188.03,300.01 188.40,300.39 188.77,300.77 189.15,301.14 189.52,301.49 189.89,301.84 190.26,302.17 190.63,302.49 191.00,302.79 191.37,303.07 191.74,303.35 192.11,303.61 192.48,303.87 192.86,304.12 193.23,304.36 193.60,304.59 193.97,304.81 194.34,305.02 194.71,305.22 195.08,305.42 195.45,305.60 195.82,305.78 196.19,305.95 196.56,306.12 196.94,306.29 197.31,306.45 197.68,306.61 198.05,306.76 198.42,306.90 198.79,307.03 199.16,307.15 199.53,307.26 199.90,307.35 200.27,307.43 200.65,307.51 201.02,307.58 201.39,307.65 201.76,307.72 202.13,307.78 202.50,307.85 202.87,307.91 203.24,307.96 203.61,308.01 203.98,308.05 204.36,308.09 204.73,308.12 205.10,308.14 205.47,308.16 205.84,308.16 206.21,308.16 206.58,308.15 206.95,308.14 207.32,308.13 207.69,308.12 208.07,308.10 208.44,308.08 208.81,308.06 209.18,308.04 209.55,308.01 209.92,307.98 210.29,307.92 210.66,307.84 211.03,307.76 211.41,307.67 211.78,307.59 212.15,307.52 212.52,307.47 212.89,307.44 213.26,307.43 213.63,307.44 214.00,307.46 214.37,307.49 214.74,307.52 215.12,307.55 215.49,307.59 215.86,307.62 216.23,307.66 216.60,307.69 216.97,307.72 217.34,307.76 217.71,307.79 218.08,307.83 218.45,307.87 218.82,307.90 219.20,307.94 219.57,307.97 219.94,307.99 220.31,308.01 220.68,308.01 221.05,308.01 221.42,308.00 221.79,307.98 222.16,307.96 222.53,307.94 222.91,307.92 223.28,307.90 223.65,307.88 224.02,307.87 224.39,307.87 224.76,307.87 225.13,307.87 225.50,307.87 225.87,307.87 226.25,307.87 226.62,307.87 226.99,307.87 227.36,307.87 227.73,307.87 228.10,307.87" fill="none" stroke="#1f6ff2" stroke-width="1.6" stroke-linejoin="round"/>
<polyline points="116.43,314.32 116.80,314.29 117.17,314.25 117.54,314.22 117.91,314.17 118.28,314.13 118.66,314.08 119.03,314.03 119.40,313.98 119.77,313.92 120.14,313.85 120.51,313.79 120.88,313.71 121.25,313.64 121.62,313.55 121.99,313.47 122.37,313.37 122.74,313.27 123.11,313.17 123.48,313.05 123.85,312.93 124.22,312.80 124.59,312.67 124.96,312.53 125.33,312.37 125.70,312.21 126.08,312.04 126.45,311.86 126.82,311.67 127.19,311.47 127.56,311.26 127.93,311.04 128.30,310.81 128.67,310.56 129.04,310.30 129.41,310.03 129.78,309.75 130.16,309.45 130.53,309.14 130.90,308.82 131.27,308.48 131.64,308.12 132.01,307.75 132.38,307.37 132.75,306.96 133.12,306.55 133.50,306.11 133.87,305.66 134.24,305.19 134.61,304.71 134.98,304.20 135.35,303.68 135.72,303.15 136.09,302.59 136.46,302.02 136.83,301.43 137.21,300.82 137.58,300.19 137.95,299.55 138.32,298.89 138.69,298.21 139.06,297.52 139.43,296.81 139.80,296.08 140.17,295.34 140.54,294.58 140.92,293.81 141.29,293.02 141.66,292.22 142.03,291.41 142.40,290.58 142.77,289.74 143.14,288.90 143.51,288.04 143.88,287.17 144.25,286.30 144.62,285.41 145.00,284.53 145.37,283.63 145.74,282.74 146.11,281.84 146.48,280.94 146.85,280.04 147.22,279.14 147.59,278.24 147.96,277.35 148.33,276.46 148.71,275.58 149.08,274.71 149.45,273.85 149.82,273.00 150.19,272.16 150.56,271.34 150.93,270.53 151.30,269.73 151.67,268.96 152.04,268.21 152.42,267.47 152.79,266.76 153.16,266.08 153.53,265.41 153.90,264.78 154.27,264.17 154.64,263.59 155.01,263.05 155.38,262.53 155.75,262.05 156.13,261.59 156.50,261.18 156.87,260.80 157.24,260.45 157.61,260.14 157.98,259.87 158.35,259.63 158.72,259.44 159.09,259.28 159.47,259.16 159.84,259.08 160.21,259.04 160.58,259.04 160.95,259.08 161.32,259.16 161.69,259.28 162.06,259.44 162.43,259.63 162.80,259.87 163.18,260.14 163.55,260.45 163.92,260.80 164.29,261.18 164.66,261.59 165.03,262.05 165.40,262.53 165.77,263.05 166.14,263.59 166.51,264.17 166.89,264.78 167.26,265.41 167.63,266.08 168.00,266.76 168.37,267.47 168.74,268.21 169.11,268.96 169.48,269.73 169.85,270.53 170.22,271.34 170.59,272.16 170.97,273.00 171.34,273.85 171.71,274.71 172.08,275.58 172.45,276.46 172.82,277.35 173.19,278.24 173.56,279.14 173.93,280.04 174.30,280.94 174.68,281.84 175.05,282.74 175.42,283.63 175.79,284.53 176.16,285.41 176.53,286.30 176.90,287.17 177.27,288.04 177.64,288.90 178.01,289.74 178.39,290.58 178.76,291.41 179.13,292.22 179.50,293.02 179.87,293.81 180.24,294.58 180.61,295.34 180.98,296.08 181.35,296.81 181.72,297.52 182.10,298.21 182.47,298.89 182.84,299.55 183.21,300.19 183.58,300.82 183.95,301.43 184.32,302.02 184.69,302.59 185.06,303.15 185.44,303.68 185.81,304.20 186.18,304.71 186.55,305.19 186.92,305.66 187.29,306.11 187.66,306.55 188.03,306.96 188.40,307.37 188.77,307.75 189.15,308.12 189.52,308.48 189.89,308.82 190.26,309.14 190.63,309.45 191.00,309.75 191.37,310.03 191.74,310.30 192.11,310.56 192.48,310.81 192.86,311.04 193.23,311.26 193.60,311.47 193.97,311.67 194.34,311.86 194.71,312.04 195.08,312.21 195.45,312.37 195.82,312.53 196.19,312.67 196.56,312.80 196.94,312.93 197.31,313.05 197.68,313.17 198.05,313.27 198.42,313.37 198.79,313.47 199.16,313.55 199.53,313.64 199.90,313.71 200.27,313.79 200.65,313.85 201.02,313.92 201.39,313.98 201.76,314.03 202.13,314.08 202.50,314.13 202.87,314.17 203.24,314.22 203.61,314.25 203.98,314.29 204.36,314.32" fill="none" stroke="#555" stroke-width="1.6" stroke-dasharray="1.6 2.4"/>
</g>
<polyline points="162.50,210.00 163.21,210.00 163.92,210.00 164.63,210.00 165.34,210.00 166.05,210.00 166.76,210.00 167.47,210.00 168.18,210.00 168.89,210.00 169.60,210.00 170.31,210.00 171.02,210.00 171.73,210.00 172.44,210.00 173.15,210.00 173.86,210.00 174.57,210.00 175.28,210.00 175.99,210.00 176.70,210.00 177.41,209.99 178.12,209.99 178.83,209.97 179.54,209.94 180.25,209.87 180.96,209.76 181.67,209.57 182.38,209.26 183.09,208.77 183.80,208.06 184.51,207.06 185.22,205.74 185.93,204.09 186.64,202.15 187.35,200.03 188.06,197.87 188.77,195.86 189.48,194.24 190.19,193.17 190.90,192.80 191.61,193.17 192.32,194.24 193.03,195.86 193.74,197.87 194.45,200.03 195.16,202.15 195.87,204.09 196.58,205.74 197.29,207.06 198.00,208.06 198.71,208.77 199.42,209.26 200.13,209.57 200.84,209.76 201.55,209.87 202.26,209.94 202.97,209.97 203.68,209.99 204.39,209.99 205.10,210.00 205.81,210.00 206.52,210.00 207.23,210.00 207.94,210.00 208.65,210.00 209.36,210.00 210.07,210.00 210.78,210.00 211.49,210.00 212.20,210.00 212.91,210.00 213.62,210.00 214.33,210.00 215.04,210.00 215.75,210.00 216.46,210.00 217.17,210.00 217.88,210.00 218.59,210.00 219.30,210.00" fill="none" stroke="#7a7a7a" stroke-width="1.5"/>
<rect x="42.60" y="183.90" width="185.50" height="130.80" fill="none" stroke="#000" stroke-width="0.9"/>
<path d="M42.60 314.70v3.5" stroke="#000" stroke-width="0.9"/>
<text x="35.95" y="330.90" font-size="11.00" textLength="13.30" lengthAdjust="spacingAndGlyphs">20</text>
<path d="M79.70 314.70v3.5" stroke="#000" stroke-width="0.9"/>
<text x="73.05" y="330.90" font-size="11.00" textLength="13.30" lengthAdjust="spacingAndGlyphs">40</text>
<path d="M116.80 314.70v3.5" stroke="#000" stroke-width="0.9"/>
<text x="110.15" y="330.90" font-size="11.00" textLength="13.30" lengthAdjust="spacingAndGlyphs">60</text>
<path d="M153.90 314.70v3.5" stroke="#000" stroke-width="0.9"/>
<text x="147.25" y="330.90" font-size="11.00" textLength="13.30" lengthAdjust="spacingAndGlyphs">80</text>
<path d="M191.00 314.70v3.5" stroke="#000" stroke-width="0.9"/>
<text x="181.03" y="330.90" font-size="11.00" textLength="19.95" lengthAdjust="spacingAndGlyphs">100</text>
<path d="M228.10 314.70v3.5" stroke="#000" stroke-width="0.9"/>
<text x="218.13" y="330.90" font-size="11.00" textLength="19.95" lengthAdjust="spacingAndGlyphs">120</text>
<path d="M42.60 314.70h-3.5" stroke="#000" stroke-width="0.9"/>
<text x="17.68" y="318.55" font-size="11.00" textLength="16.62" lengthAdjust="spacingAndGlyphs">0.0</text>
<path d="M42.60 285.63h-3.5" stroke="#000" stroke-width="0.9"/>
<text x="17.68" y="289.48" font-size="11.00" textLength="16.62" lengthAdjust="spacingAndGlyphs">0.2</text>
<path d="M42.60 256.57h-3.5" stroke="#000" stroke-width="0.9"/>
<text x="17.68" y="260.42" font-size="11.00" textLength="16.62" lengthAdjust="spacingAndGlyphs">0.4</text>
<path d="M42.60 227.50h-3.5" stroke="#000" stroke-width="0.9"/>
<text x="17.68" y="231.35" font-size="11.00" textLength="16.62" lengthAdjust="spacingAndGlyphs">0.6</text>
<path d="M42.60 198.43h-3.5" stroke="#000" stroke-width="0.9"/>
<text x="17.68" y="202.28" font-size="11.00" textLength="16.62" lengthAdjust="spacingAndGlyphs">0.8</text>
<text x="105.58" y="345.60" font-size="11.00" textLength="59.54" lengthAdjust="spacingAndGlyphs">Radius (au)</text>
<text transform="translate(9.90 249.40) rotate(-90)" x="-40.90" y="0" font-size="11.00" textLength="81.80" lengthAdjust="spacingAndGlyphs"><tspan font-style="italic">I</tspan><tspan font-style="italic" font-size="7.6" dy="1.6">ν</tspan><tspan dy="-1.6"> (mJy beam</tspan><tspan font-size="7.6" dy="-4.2">−1</tspan><tspan dy="4.2">)</tspan></text>
<text x="114.45" y="201.10" font-size="11.00" textLength="40.30" lengthAdjust="spacingAndGlyphs">1.1 mm</text>
<g clip-path="url(#clp1)">
<polygon points="320.80,307.99 321.17,307.50 321.54,307.00 321.91,306.50 322.28,305.98 322.66,305.47 323.03,304.94 323.40,304.42 323.77,303.88 324.14,303.34 324.51,302.80 324.88,302.24 325.25,301.68 325.62,301.11 325.99,300.55 326.37,299.99 326.74,299.43 327.11,298.89 327.48,298.36 327.85,297.85 328.22,297.37 328.59,296.90 328.96,296.46 329.33,296.04 329.70,295.63 330.07,295.23 330.45,294.84 330.82,294.47 331.19,294.09 331.56,293.73 331.93,293.39 332.30,293.06 332.67,292.75 333.04,292.44 333.41,292.13 333.79,291.82 334.16,291.50 334.53,291.16 334.90,290.81 335.27,290.44 335.64,290.04 336.01,289.61 336.38,289.13 336.75,288.60 337.12,288.00 337.50,287.31 337.87,286.54 338.24,285.68 338.61,284.69 338.98,283.53 339.35,282.25 339.72,280.88 340.09,279.37 340.46,277.71 340.83,275.94 341.20,274.11 341.58,272.26 341.95,270.37 342.32,268.40 342.69,266.41 343.06,264.43 343.43,262.42 343.80,260.29 344.17,257.96 344.54,255.37 344.92,252.54 345.29,249.52 345.66,246.35 346.03,243.05 346.40,239.50 346.77,235.77 347.14,231.97 347.51,228.20 347.88,224.42 348.25,220.56 348.62,216.74 349.00,213.06 349.37,209.58 349.74,206.15 350.11,202.84 350.48,199.79 350.85,197.12 351.22,194.70 351.59,192.40 351.96,190.33 352.33,188.62 352.71,187.39 353.08,186.47 353.45,185.67 353.82,185.03 354.19,184.62 354.56,184.50 354.93,184.73 355.30,185.27 355.67,186.02 356.05,186.90 356.42,187.85 356.79,189.05 357.16,190.49 357.53,192.07 357.90,193.70 358.27,195.32 358.64,196.94 359.01,198.63 359.38,200.36 359.75,202.09 360.13,203.80 360.50,205.45 360.87,207.08 361.24,208.70 361.61,210.30 361.98,211.85 362.35,213.34 362.72,214.74 363.09,216.04 363.47,217.29 363.84,218.50 364.21,219.66 364.58,220.75 364.95,221.78 365.32,222.73 365.69,223.59 366.06,224.36 366.43,225.05 366.80,225.68 367.18,226.26 367.55,226.81 367.92,227.35 368.29,227.87 368.66,228.40 369.03,228.92 369.40,229.42 369.77,229.89 370.14,230.32 370.51,230.73 370.88,231.12 371.26,231.49 371.63,231.85 372.00,232.19 372.37,232.54 372.74,232.90 373.11,233.29 373.48,233.73 373.85,234.23 374.22,234.80 374.59,235.44 374.97,236.16 375.34,236.98 375.71,237.93 376.08,239.02 376.45,240.25 376.82,241.66 377.19,243.27 377.56,245.05 377.93,246.96 378.31,248.95 378.68,250.97 379.05,252.97 379.42,254.92 379.79,256.87 380.16,258.82 380.53,260.75 380.90,262.64 381.27,264.48 381.64,266.25 382.01,267.95 382.39,269.62 382.76,271.26 383.13,272.85 383.50,274.39 383.87,275.86 384.24,277.27 384.61,278.59 384.98,279.86 385.35,281.08 385.73,282.26 386.10,283.40 386.47,284.51 386.84,285.60 387.21,286.67 387.58,287.74 387.95,288.81 388.32,289.87 388.69,290.89 389.06,291.87 389.44,292.80 389.81,293.66 390.18,294.44 390.55,295.17 390.92,295.88 391.29,296.55 391.66,297.20 392.03,297.80 392.40,298.36 392.77,298.86 393.14,299.31 393.52,299.69 393.89,300.02 394.26,300.33 394.63,300.62 395.00,300.89 395.37,301.13 395.74,301.35 396.11,301.56 396.48,301.75 396.86,301.92 397.23,302.07 397.60,302.22 397.97,302.35 398.34,302.46 398.71,302.57 399.08,302.67 399.45,302.76 399.82,302.84 400.19,302.92 400.56,303.00 400.94,303.07 401.31,303.14 401.68,303.22 402.05,303.29 402.42,303.37 402.79,303.45 403.16,303.54 403.53,303.64 403.90,303.74 404.27,303.86 404.65,303.99 405.02,304.13 405.39,304.28 405.76,304.44 406.13,304.59 406.50,304.75 406.87,304.91 407.24,305.06 407.61,305.20 407.99,305.33 408.36,305.45 408.73,305.56 409.10,305.66 409.47,305.77 409.84,305.88 410.21,305.99 410.58,306.10 410.95,306.21 411.32,306.31 411.69,306.41 412.07,306.50 412.44,306.58 412.81,306.66 413.18,306.70 413.55,306.66 413.92,306.52 414.29,306.33 414.66,306.10 415.03,305.86 415.40,305.63 415.78,305.40 416.15,305.15 416.52,304.87 416.89,304.57 417.26,304.26 417.63,303.92 418.00,303.58 418.37,303.22 418.74,302.85 419.12,302.45 419.49,302.03 419.86,301.59 420.23,301.14 420.60,300.67 420.97,300.18 421.34,299.67 421.71,299.13 422.08,298.55 422.45,297.95 422.82,297.32 423.20,296.66 423.57,295.97 423.94,295.26 424.31,294.54 424.68,293.80 425.05,293.03 425.42,292.24 425.79,291.47 426.16,290.73 426.53,290.05 426.91,289.36 427.28,288.62 427.65,287.77 428.02,286.80 428.39,285.75 428.76,284.64 429.13,283.50 429.50,282.34 429.87,281.19 430.25,280.03 430.62,278.83 430.99,277.61 431.36,276.37 431.73,275.15 432.10,273.95 432.47,272.80 432.84,271.65 433.21,270.50 433.58,269.35 433.95,268.24 434.33,267.20 434.70,266.24 435.07,265.39 435.44,264.56 435.81,263.78 436.18,263.06 436.55,262.44 436.92,261.95 437.29,261.53 437.66,261.15 438.04,260.81 438.41,260.55 438.78,260.40 439.15,260.36 439.52,260.41 439.89,260.52 440.26,260.69 440.63,260.91 441.00,261.17 441.38,261.46 441.75,261.83 442.12,262.32 442.49,262.92 442.86,263.59 443.23,264.30 443.60,265.03 443.97,265.75 444.34,266.48 444.71,267.25 445.08,268.06 445.46,268.89 445.83,269.73 446.20,270.59 446.57,271.46 446.94,272.37 447.31,273.31 447.68,274.28 448.05,275.24 448.42,276.19 448.79,277.11 449.17,278.02 449.54,278.92 449.91,279.82 450.28,280.71 450.65,281.58 451.02,282.45 451.39,283.30 451.76,284.14 452.13,284.98 452.50,285.82 452.88,286.64 453.25,287.45 453.62,288.23 453.99,288.98 454.36,289.70 454.73,290.39 455.10,291.06 455.47,291.70 455.84,292.33 456.21,292.94 456.59,293.53 456.96,294.09 457.33,294.64 457.70,295.18 458.07,295.69 458.44,296.19 458.81,296.68 459.18,297.15 459.55,297.61 459.92,298.06 460.30,298.50 460.67,298.93 461.04,299.35 461.41,299.76 461.78,300.16 462.15,300.55 462.52,300.94 462.89,301.31 463.26,301.68 463.63,302.03 464.01,302.37 464.38,302.71 464.75,303.05 465.12,303.39 465.49,303.71 465.86,304.02 466.23,304.32 466.60,304.60 466.97,304.87 467.34,305.11 467.72,305.34 468.09,305.57 468.46,305.80 468.83,306.02 469.20,306.23 469.57,306.42 469.94,306.58 470.31,306.72 470.68,306.82 471.05,306.88 471.43,306.93 471.80,306.97 472.17,307.00 472.54,307.04 472.91,307.06 473.28,307.09 473.65,307.13 474.02,307.16 474.39,307.19 474.76,307.22 475.14,307.25 475.51,307.28 475.88,307.32 476.25,307.36 476.62,307.41 476.99,307.47 477.36,307.56 477.73,307.69 478.10,307.85 478.47,308.02 478.85,308.20 479.22,308.39 479.59,308.57 479.96,308.74 480.33,308.89 480.70,309.03 481.07,309.19 481.44,309.35 481.81,309.51 482.18,309.67 482.56,309.80 482.93,309.92 483.30,310.00 483.67,310.04 484.04,310.05 484.41,310.03 484.78,309.99 485.15,309.94 485.52,309.89 485.89,309.82 486.27,309.75 486.64,309.69 487.01,309.62 487.38,309.56 487.75,309.51 488.12,309.47 488.49,309.43 488.86,309.40 489.23,309.37 489.60,309.33 489.98,309.30 490.35,309.27 490.72,309.25 491.09,309.22 491.46,309.20 491.83,309.19 492.20,309.18 492.57,309.18 492.94,309.19 493.31,309.21 493.69,309.24 494.06,309.29 494.43,309.35 494.80,309.42 495.17,309.49 495.54,309.57 495.91,309.66 496.28,309.75 496.65,309.84 497.02,309.93 497.40,310.02 497.77,310.11 498.14,310.19 498.51,310.27 498.88,310.34 499.25,310.41 499.62,310.49 499.99,310.57 500.36,310.65 500.73,310.74 501.11,310.83 501.48,310.92 501.85,311.01 502.22,311.09 502.59,311.17 502.96,311.24 503.33,311.31 503.70,311.37 504.07,311.42 504.44,311.46 504.82,311.49 505.19,311.50 505.56,311.50 505.93,311.50 506.30,311.50 506.30,313.25 505.93,313.25 505.56,313.25 505.19,313.24 504.82,313.23 504.44,313.20 504.07,313.16 503.70,313.11 503.33,313.05 502.96,312.99 502.59,312.91 502.22,312.83 501.85,312.75 501.48,312.66 501.11,312.57 500.73,312.49 500.36,312.40 499.99,312.31 499.62,312.23 499.25,312.15 498.88,312.08 498.51,312.01 498.14,311.93 497.77,311.85 497.40,311.76 497.02,311.67 496.65,311.58 496.28,311.49 495.91,311.40 495.54,311.32 495.17,311.24 494.80,311.16 494.43,311.09 494.06,311.04 493.69,310.99 493.31,310.95 492.94,310.93 492.57,310.92 492.20,310.92 491.83,310.93 491.46,310.95 491.09,310.97 490.72,310.99 490.35,311.02 489.98,311.05 489.60,311.08 489.23,311.11 488.86,311.14 488.49,311.18 488.12,311.21 487.75,311.25 487.38,311.30 487.01,311.36 486.64,311.43 486.27,311.50 485.89,311.57 485.52,311.63 485.15,311.69 484.78,311.74 484.41,311.77 484.04,311.79 483.67,311.79 483.30,311.74 482.93,311.66 482.56,311.55 482.18,311.41 481.81,311.26 481.44,311.10 481.07,310.93 480.70,310.78 480.33,310.63 479.96,310.48 479.59,310.31 479.22,310.13 478.85,309.95 478.47,309.77 478.10,309.59 477.73,309.44 477.36,309.31 476.99,309.21 476.62,309.15 476.25,309.10 475.88,309.06 475.51,309.03 475.14,309.00 474.76,308.97 474.39,308.94 474.02,308.90 473.65,308.87 473.28,308.84 472.91,308.81 472.54,308.78 472.17,308.75 471.80,308.71 471.43,308.67 471.05,308.62 470.68,308.56 470.31,308.46 469.94,308.33 469.57,308.16 469.20,307.98 468.83,307.77 468.46,307.55 468.09,307.32 467.72,307.08 467.34,306.85 466.97,306.61 466.60,306.35 466.23,306.07 465.86,305.77 465.49,305.45 465.12,305.13 464.75,304.80 464.38,304.46 464.01,304.12 463.63,303.77 463.26,303.42 462.89,303.06 462.52,302.68 462.15,302.30 461.78,301.91 461.41,301.50 461.04,301.09 460.67,300.67 460.30,300.24 459.92,299.80 459.55,299.35 459.18,298.89 458.81,298.42 458.44,297.94 458.07,297.44 457.70,296.92 457.33,296.39 456.96,295.84 456.59,295.27 456.21,294.68 455.84,294.07 455.47,293.45 455.10,292.80 454.73,292.13 454.36,291.45 453.99,290.73 453.62,289.98 453.25,289.20 452.88,288.39 452.50,287.57 452.13,286.74 451.76,285.90 451.39,285.06 451.02,284.23 450.65,283.37 450.28,282.51 449.91,281.64 449.54,280.77 449.17,279.90 448.79,279.04 448.42,278.16 448.05,277.27 447.68,276.38 447.31,275.51 446.94,274.67 446.57,273.87 446.20,273.14 445.83,272.44 445.46,271.76 445.08,271.12 444.71,270.52 444.34,269.97 443.97,269.47 443.60,269.00 443.23,268.51 442.86,268.05 442.49,267.62 442.12,267.25 441.75,266.97 441.38,266.79 441.00,266.67 440.63,266.54 440.26,266.42 439.89,266.31 439.52,266.22 439.15,266.16 438.78,266.13 438.41,266.19 438.04,266.31 437.66,266.48 437.29,266.68 436.92,266.88 436.55,267.14 436.18,267.52 435.81,267.99 435.44,268.53 435.07,269.11 434.70,269.74 434.33,270.47 433.95,271.31 433.58,272.23 433.21,273.21 432.84,274.21 432.47,275.22 432.10,276.25 431.73,277.35 431.36,278.49 430.99,279.66 430.62,280.82 430.25,281.98 429.87,283.10 429.50,284.22 429.13,285.36 428.76,286.49 428.39,287.59 428.02,288.63 427.65,289.59 427.28,290.45 426.91,291.20 426.53,291.89 426.16,292.59 425.79,293.34 425.42,294.13 425.05,294.93 424.68,295.72 424.31,296.49 423.94,297.23 423.57,297.97 423.20,298.69 422.82,299.39 422.45,300.06 422.08,300.70 421.71,301.32 421.34,301.91 420.97,302.48 420.60,303.02 420.23,303.55 419.86,304.07 419.49,304.58 419.12,305.07 418.74,305.55 418.37,306.01 418.00,306.45 417.63,306.89 417.26,307.32 416.89,307.74 416.52,308.14 416.15,308.53 415.78,308.89 415.40,309.24 415.03,309.58 414.66,309.94 414.29,310.30 413.92,310.61 413.55,310.87 413.18,311.04 412.81,311.11 412.44,311.16 412.07,311.20 411.69,311.23 411.32,311.24 410.95,311.25 410.58,311.25 410.21,311.24 409.84,311.22 409.47,311.19 409.10,311.16 408.73,311.13 408.36,311.08 407.99,311.02 407.61,310.93 407.24,310.82 406.87,310.70 406.50,310.56 406.13,310.41 405.76,310.25 405.39,310.08 405.02,309.90 404.65,309.73 404.27,309.55 403.90,309.38 403.53,309.21 403.16,309.04 402.79,308.87 402.42,308.70 402.05,308.53 401.68,308.36 401.31,308.18 400.94,308.00 400.56,307.81 400.19,307.62 399.82,307.42 399.45,307.22 399.08,307.01 398.71,306.78 398.34,306.55 397.97,306.31 397.60,306.06 397.23,305.80 396.86,305.53 396.48,305.24 396.11,304.94 395.74,304.62 395.37,304.30 395.00,303.95 394.63,303.59 394.26,303.21 393.89,302.81 393.52,302.39 393.14,301.93 392.77,301.41 392.40,300.83 392.03,300.21 391.66,299.55 391.29,298.85 390.92,298.12 390.55,297.36 390.18,296.59 389.81,295.77 389.44,294.87 389.06,293.90 388.69,292.89 388.32,291.84 387.95,290.76 387.58,289.67 387.21,288.58 386.84,287.50 386.47,286.41 386.10,285.29 385.73,284.16 385.35,283.00 384.98,281.81 384.61,280.58 384.24,279.32 383.87,278.00 383.50,276.64 383.13,275.26 382.76,273.87 382.39,272.48 382.01,271.11 381.64,269.78 381.27,268.44 380.90,267.11 380.53,265.80 380.16,264.52 379.79,263.28 379.42,262.09 379.05,260.94 378.68,259.77 378.31,258.57 377.93,257.39 377.56,256.23 377.19,255.12 376.82,254.08 376.45,253.13 376.08,252.21 375.71,251.28 375.34,250.33 374.97,249.35 374.59,248.31 374.22,247.22 373.85,246.08 373.48,244.90 373.11,243.71 372.74,242.52 372.37,241.34 372.00,240.16 371.63,239.01 371.26,237.89 370.88,236.81 370.51,235.77 370.14,234.78 369.77,233.84 369.40,232.94 369.03,232.08 368.66,231.25 368.29,230.47 367.92,229.76 367.55,229.08 367.18,228.42 366.80,227.76 366.43,227.08 366.06,226.37 365.69,225.60 365.32,224.76 364.95,223.85 364.58,222.89 364.21,221.88 363.84,220.82 363.47,219.74 363.09,218.65 362.72,217.53 362.35,216.35 361.98,215.10 361.61,213.83 361.24,212.54 360.87,211.26 360.50,210.02 360.13,208.77 359.75,207.51 359.38,206.24 359.01,205.01 358.64,203.82 358.27,202.71 357.90,201.60 357.53,200.47 357.16,199.37 356.79,198.39 356.42,197.61 356.05,197.03 355.67,196.48 355.30,195.97 354.93,195.62 354.56,195.51 354.19,195.67 353.82,196.05 353.45,196.57 353.08,197.19 352.71,197.85 352.33,198.77 351.96,200.11 351.59,201.77 351.22,203.62 350.85,205.56 350.48,207.74 350.11,210.29 349.74,213.10 349.37,216.05 349.00,219.05 348.62,222.29 348.25,225.69 347.88,229.17 347.51,232.61 347.14,236.07 346.77,239.60 346.40,243.10 346.03,246.47 345.66,249.62 345.29,252.68 344.92,255.62 344.54,258.41 344.17,260.99 343.80,263.34 343.43,265.52 343.06,267.61 342.69,269.68 342.32,271.79 341.95,273.90 341.58,275.95 341.20,277.97 340.83,279.99 340.46,281.97 340.09,283.85 339.72,285.59 339.35,287.20 338.98,288.73 338.61,290.14 338.24,291.40 337.87,292.52 337.50,293.55 337.12,294.50 336.75,295.36 336.38,296.14 336.01,296.86 335.64,297.52 335.27,298.14 334.90,298.71 334.53,299.25 334.16,299.74 333.79,300.21 333.41,300.64 333.04,301.04 332.67,301.41 332.30,301.77 331.93,302.11 331.56,302.43 331.19,302.76 330.82,303.06 330.45,303.35 330.07,303.62 329.70,303.87 329.33,304.12 328.96,304.36 328.59,304.60 328.22,304.85 327.85,305.11 327.48,305.37 327.11,305.65 326.74,305.93 326.37,306.23 325.99,306.52 325.62,306.82 325.25,307.13 324.88,307.43 324.51,307.73 324.14,308.04 323.77,308.34 323.40,308.64 323.03,308.95 322.66,309.27 322.28,309.59 321.91,309.92 321.54,310.25 321.17,310.59 320.80,310.94" fill="#2a78f0" fill-opacity="0.28"/>
<polyline points="320.80,309.47 321.17,309.05 321.54,308.63 321.91,308.21 322.28,307.79 322.66,307.37 323.03,306.95 323.40,306.53 323.77,306.11 324.14,305.69 324.51,305.27 324.88,304.84 325.25,304.40 325.62,303.97 325.99,303.54 326.37,303.11 326.74,302.68 327.11,302.27 327.48,301.87 327.85,301.48 328.22,301.11 328.59,300.75 328.96,300.41 329.33,300.08 329.70,299.75 330.07,299.42 330.45,299.10 330.82,298.76 331.19,298.42 331.56,298.08 331.93,297.75 332.30,297.41 332.67,297.08 333.04,296.74 333.41,296.38 333.79,296.01 334.16,295.62 334.53,295.20 334.90,294.76 335.27,294.29 335.64,293.78 336.01,293.23 336.38,292.64 336.75,291.98 337.12,291.25 337.50,290.43 337.87,289.53 338.24,288.54 338.61,287.42 338.98,286.13 339.35,284.73 339.72,283.23 340.09,281.61 340.46,279.84 340.83,277.97 341.20,276.04 341.58,274.10 341.95,272.13 342.32,270.10 342.69,268.04 343.06,266.02 343.43,263.97 343.80,261.81 344.17,259.47 344.54,256.89 344.92,254.08 345.29,251.10 345.66,247.98 346.03,244.76 346.40,241.30 346.77,237.69 347.14,234.02 347.51,230.41 347.88,226.79 348.25,223.13 348.62,219.51 349.00,216.06 349.37,212.82 349.74,209.63 350.11,206.57 350.48,203.76 350.85,201.34 351.22,199.16 351.59,197.08 351.96,195.22 352.33,193.69 352.71,192.62 353.08,191.83 353.45,191.12 353.82,190.54 354.19,190.15 354.56,190.00 354.93,190.17 355.30,190.62 355.67,191.25 356.05,191.97 356.42,192.73 356.79,193.72 357.16,194.93 357.53,196.27 357.90,197.65 358.27,199.01 358.64,200.38 359.01,201.82 359.38,203.30 359.75,204.80 360.13,206.29 360.50,207.73 360.87,209.17 361.24,210.62 361.61,212.06 361.98,213.48 362.35,214.84 362.72,216.13 363.09,217.34 363.47,218.52 363.84,219.66 364.21,220.77 364.58,221.82 364.95,222.82 365.32,223.74 365.69,224.59 366.06,225.36 366.43,226.07 366.80,226.72 367.18,227.34 367.55,227.95 367.92,228.55 368.29,229.17 368.66,229.83 369.03,230.50 369.40,231.18 369.77,231.86 370.14,232.55 370.51,233.25 370.88,233.96 371.26,234.69 371.63,235.43 372.00,236.18 372.37,236.94 372.74,237.71 373.11,238.50 373.48,239.31 373.85,240.15 374.22,241.01 374.59,241.88 374.97,242.75 375.34,243.66 375.71,244.61 376.08,245.61 376.45,246.69 376.82,247.87 377.19,249.19 377.56,250.64 377.93,252.17 378.31,253.76 378.68,255.37 379.05,256.95 379.42,258.50 379.79,260.07 380.16,261.67 380.53,263.27 380.90,264.87 381.27,266.46 381.64,268.01 382.01,269.53 382.39,271.05 382.76,272.56 383.13,274.05 383.50,275.52 383.87,276.93 384.24,278.29 384.61,279.59 384.98,280.83 385.35,282.04 385.73,283.21 386.10,284.35 386.47,285.46 386.84,286.55 387.21,287.63 387.58,288.71 387.95,289.79 388.32,290.85 388.69,291.89 389.06,292.89 389.44,293.83 389.81,294.71 390.18,295.52 390.55,296.27 390.92,297.00 391.29,297.70 391.66,298.37 392.03,299.01 392.40,299.60 392.77,300.13 393.14,300.62 393.52,301.04 393.89,301.42 394.26,301.77 394.63,302.10 395.00,302.42 395.37,302.71 395.74,302.99 396.11,303.25 396.48,303.49 396.86,303.72 397.23,303.94 397.60,304.14 397.97,304.33 398.34,304.51 398.71,304.68 399.08,304.84 399.45,304.99 399.82,305.13 400.19,305.27 400.56,305.41 400.94,305.54 401.31,305.66 401.68,305.79 402.05,305.91 402.42,306.04 402.79,306.16 403.16,306.29 403.53,306.42 403.90,306.56 404.27,306.71 404.65,306.86 405.02,307.02 405.39,307.18 405.76,307.34 406.13,307.50 406.50,307.66 406.87,307.80 407.24,307.94 407.61,308.07 407.99,308.17 408.36,308.27 408.73,308.34 409.10,308.41 409.47,308.48 409.84,308.55 410.21,308.62 410.58,308.68 410.95,308.73 411.32,308.78 411.69,308.82 412.07,308.85 412.44,308.87 412.81,308.89 413.18,308.87 413.55,308.76 413.92,308.57 414.29,308.31 414.66,308.02 415.03,307.72 415.40,307.43 415.78,307.15 416.15,306.84 416.52,306.51 416.89,306.16 417.26,305.79 417.63,305.41 418.00,305.02 418.37,304.62 418.74,304.20 419.12,303.76 419.49,303.31 419.86,302.83 420.23,302.35 420.60,301.85 420.97,301.33 421.34,300.79 421.71,300.22 422.08,299.62 422.45,299.00 422.82,298.35 423.20,297.67 423.57,296.97 423.94,296.25 424.31,295.52 424.68,294.76 425.05,293.98 425.42,293.19 425.79,292.41 426.16,291.66 426.53,290.97 426.91,290.28 427.28,289.53 427.65,288.68 428.02,287.72 428.39,286.67 428.76,285.57 429.13,284.43 429.50,283.28 429.87,282.15 430.25,281.01 430.62,279.83 430.99,278.63 431.36,277.43 431.73,276.25 432.10,275.10 432.47,274.01 432.84,272.93 433.21,271.85 433.58,270.79 433.95,269.78 434.33,268.84 434.70,267.99 435.07,267.25 435.44,266.54 435.81,265.88 436.18,265.29 436.55,264.79 436.92,264.41 437.29,264.11 437.66,263.81 438.04,263.56 438.41,263.37 438.78,263.27 439.15,263.26 439.52,263.31 439.89,263.42 440.26,263.56 440.63,263.73 441.00,263.92 441.38,264.12 441.75,264.40 442.12,264.79 442.49,265.27 442.86,265.82 443.23,266.41 443.60,267.01 443.97,267.61 444.34,268.23 444.71,268.89 445.08,269.59 445.46,270.32 445.83,271.09 446.20,271.87 446.57,272.67 446.94,273.52 447.31,274.41 447.68,275.33 448.05,276.26 448.42,277.18 448.79,278.08 449.17,278.96 449.54,279.85 449.91,280.73 450.28,281.61 450.65,282.48 451.02,283.34 451.39,284.18 451.76,285.02 452.13,285.86 452.50,286.69 452.88,287.52 453.25,288.32 453.62,289.10 453.99,289.86 454.36,290.57 454.73,291.26 455.10,291.93 455.47,292.58 455.84,293.20 456.21,293.81 456.59,294.40 456.96,294.97 457.33,295.52 457.70,296.05 458.07,296.56 458.44,297.06 458.81,297.55 459.18,298.02 459.55,298.48 459.92,298.93 460.30,299.37 460.67,299.80 461.04,300.22 461.41,300.63 461.78,301.03 462.15,301.43 462.52,301.81 462.89,302.18 463.26,302.55 463.63,302.90 464.01,303.24 464.38,303.59 464.75,303.92 465.12,304.26 465.49,304.58 465.86,304.89 466.23,305.19 466.60,305.48 466.97,305.74 467.34,305.98 467.72,306.21 468.09,306.45 468.46,306.68 468.83,306.90 469.20,307.10 469.57,307.29 469.94,307.46 470.31,307.59 470.68,307.69 471.05,307.75 471.43,307.80 471.80,307.84 472.17,307.88 472.54,307.91 472.91,307.94 473.28,307.97 473.65,308.00 474.02,308.03 474.39,308.06 474.76,308.09 475.14,308.12 475.51,308.15 475.88,308.19 476.25,308.23 476.62,308.28 476.99,308.34 477.36,308.44 477.73,308.57 478.10,308.72 478.47,308.89 478.85,309.08 479.22,309.26 479.59,309.44 479.96,309.61 480.33,309.76 480.70,309.90 481.07,310.06 481.44,310.22 481.81,310.39 482.18,310.54 482.56,310.67 482.93,310.79 483.30,310.87 483.67,310.92 484.04,310.92 484.41,310.90 484.78,310.86 485.15,310.82 485.52,310.76 485.89,310.69 486.27,310.63 486.64,310.56 487.01,310.49 487.38,310.43 487.75,310.38 488.12,310.34 488.49,310.31 488.86,310.27 489.23,310.24 489.60,310.21 489.98,310.17 490.35,310.15 490.72,310.12 491.09,310.10 491.46,310.08 491.83,310.06 492.20,310.05 492.57,310.05 492.94,310.06 493.31,310.08 493.69,310.12 494.06,310.16 494.43,310.22 494.80,310.29 495.17,310.36 495.54,310.45 495.91,310.53 496.28,310.62 496.65,310.71 497.02,310.80 497.40,310.89 497.77,310.98 498.14,311.06 498.51,311.14 498.88,311.21 499.25,311.28 499.62,311.36 499.99,311.44 500.36,311.53 500.73,311.61 501.11,311.70 501.48,311.79 501.85,311.88 502.22,311.96 502.59,312.04 502.96,312.11 503.33,312.18 503.70,312.24 504.07,312.29 504.44,312.33 504.82,312.36 505.19,312.37 505.56,312.37 505.93,312.37 506.30,312.37" fill="none" stroke="#1f6ff2" stroke-width="1.6" stroke-linejoin="round"/>
<polyline points="409.10,313.95 409.47,313.87 409.84,313.79 410.21,313.69 410.58,313.59 410.95,313.48 411.32,313.36 411.69,313.24 412.07,313.10 412.44,312.95 412.81,312.78 413.18,312.61 413.55,312.42 413.92,312.22 414.29,312.00 414.66,311.77 415.03,311.52 415.40,311.25 415.78,310.97 416.15,310.67 416.52,310.35 416.89,310.01 417.26,309.64 417.63,309.26 418.00,308.85 418.37,308.43 418.74,307.97 419.12,307.50 419.49,307.00 419.86,306.47 420.23,305.92 420.60,305.34 420.97,304.74 421.34,304.11 421.71,303.46 422.08,302.78 422.45,302.07 422.82,301.33 423.20,300.57 423.57,299.79 423.94,298.98 424.31,298.14 424.68,297.28 425.05,296.40 425.42,295.50 425.79,294.58 426.16,293.64 426.53,292.68 426.91,291.70 427.28,290.71 427.65,289.70 428.02,288.69 428.39,287.66 428.76,286.63 429.13,285.59 429.50,284.55 429.87,283.51 430.25,282.48 430.62,281.45 430.99,280.42 431.36,279.41 431.73,278.41 432.10,277.42 432.47,276.46 432.84,275.52 433.21,274.60 433.58,273.70 433.95,272.84 434.33,272.01 434.70,271.22 435.07,270.46 435.44,269.75 435.81,269.07 436.18,268.45 436.55,267.86 436.92,267.33 437.29,266.85 437.66,266.42 438.04,266.05 438.41,265.73 438.78,265.47 439.15,265.26 439.52,265.11 439.89,265.03 440.26,265.00 440.63,265.03 441.00,265.11 441.38,265.26 441.75,265.47 442.12,265.73 442.49,266.05 442.86,266.42 443.23,266.85 443.60,267.33 443.97,267.86 444.34,268.45 444.71,269.07 445.08,269.75 445.46,270.46 445.83,271.22 446.20,272.01 446.57,272.84 446.94,273.70 447.31,274.60 447.68,275.52 448.05,276.46 448.42,277.42 448.79,278.41 449.17,279.41 449.54,280.42 449.91,281.45 450.28,282.48 450.65,283.51 451.02,284.55 451.39,285.59 451.76,286.63 452.13,287.66 452.50,288.69 452.88,289.70 453.25,290.71 453.62,291.70 453.99,292.68 454.36,293.64 454.73,294.58 455.10,295.50 455.47,296.40 455.84,297.28 456.21,298.14 456.59,298.98 456.96,299.79 457.33,300.57 457.70,301.33 458.07,302.07 458.44,302.78 458.81,303.46 459.18,304.11 459.55,304.74 459.92,305.34 460.30,305.92 460.67,306.47 461.04,307.00 461.41,307.50 461.78,307.97 462.15,308.43 462.52,308.85 462.89,309.26 463.26,309.64 463.63,310.01 464.01,310.35 464.38,310.67 464.75,310.97 465.12,311.25 465.49,311.52 465.86,311.77 466.23,312.00 466.60,312.22 466.97,312.42 467.34,312.61 467.72,312.78 468.09,312.95 468.46,313.10 468.83,313.24 469.20,313.36 469.57,313.48 469.94,313.59 470.31,313.69 470.68,313.79 471.05,313.87 471.43,313.95" fill="none" stroke="#555" stroke-width="1.6" stroke-dasharray="1.6 2.4"/>
</g>
<polyline points="440.70,210.00 441.41,210.00 442.12,210.00 442.83,210.00 443.54,210.00 444.25,210.00 444.96,210.00 445.67,210.00 446.38,210.00 447.09,210.00 447.80,210.00 448.51,210.00 449.22,210.00 449.93,210.00 450.64,210.00 451.35,210.00 452.06,210.00 452.77,210.00 453.48,210.00 454.19,210.00 454.90,210.00 455.61,209.99 456.32,209.99 457.03,209.97 457.74,209.94 458.45,209.87 459.16,209.76 459.87,209.57 460.58,209.26 461.29,208.77 462.00,208.06 462.71,207.06 463.42,205.74 464.13,204.09 464.84,202.15 465.55,200.03 466.26,197.87 466.97,195.86 467.68,194.24 468.39,193.17 469.10,192.80 469.81,193.17 470.52,194.24 471.23,195.86 471.94,197.87 472.65,200.03 473.36,202.15 474.07,204.09 474.78,205.74 475.49,207.06 476.20,208.06 476.91,208.77 477.62,209.26 478.33,209.57 479.04,209.76 479.75,209.87 480.46,209.94 481.17,209.97 481.88,209.99 482.59,209.99 483.30,210.00 484.01,210.00 484.72,210.00 485.43,210.00 486.14,210.00 486.85,210.00 487.56,210.00 488.27,210.00 488.98,210.00 489.69,210.00 490.40,210.00 491.11,210.00 491.82,210.00 492.53,210.00 493.24,210.00 493.95,210.00 494.66,210.00 495.37,210.00 496.08,210.00 496.79,210.00 497.50,210.00" fill="none" stroke="#7a7a7a" stroke-width="1.5"/>
<rect x="320.80" y="183.90" width="185.50" height="130.80" fill="none" stroke="#000" stroke-width="0.9"/>
<path d="M320.80 314.70v3.5" stroke="#000" stroke-width="0.9"/>
<text x="314.15" y="330.90" font-size="11.00" textLength="13.30" lengthAdjust="spacingAndGlyphs">20</text>
<path d="M357.90 314.70v3.5" stroke="#000" stroke-width="0.9"/>
<text x="351.25" y="330.90" font-size="11.00" textLength="13.30" lengthAdjust="spacingAndGlyphs">40</text>
<path d="M395.00 314.70v3.5" stroke="#000" stroke-width="0.9"/>
<text x="388.35" y="330.90" font-size="11.00" textLength="13.30" lengthAdjust="spacingAndGlyphs">60</text>
<path d="M432.10 314.70v3.5" stroke="#000" stroke-width="0.9"/>
<text x="425.45" y="330.90" font-size="11.00" textLength="13.30" lengthAdjust="spacingAndGlyphs">80</text>
<path d="M469.20 314.70v3.5" stroke="#000" stroke-width="0.9"/>
<text x="459.23" y="330.90" font-size="11.00" textLength="19.95" lengthAdjust="spacingAndGlyphs">100</text>
<path d="M506.30 314.70v3.5" stroke="#000" stroke-width="0.9"/>
<text x="496.33" y="330.90" font-size="11.00" textLength="19.95" lengthAdjust="spacingAndGlyphs">120</text>
<path d="M320.80 314.70h-3.5" stroke="#000" stroke-width="0.9"/>
<text x="295.88" y="318.55" font-size="11.00" textLength="16.62" lengthAdjust="spacingAndGlyphs">0.0</text>
<path d="M320.80 285.63h-3.5" stroke="#000" stroke-width="0.9"/>
<text x="295.88" y="289.48" font-size="11.00" textLength="16.62" lengthAdjust="spacingAndGlyphs">0.1</text>
<path d="M320.80 256.57h-3.5" stroke="#000" stroke-width="0.9"/>
<text x="295.88" y="260.42" font-size="11.00" textLength="16.62" lengthAdjust="spacingAndGlyphs">0.2</text>
<path d="M320.80 227.50h-3.5" stroke="#000" stroke-width="0.9"/>
<text x="295.88" y="231.35" font-size="11.00" textLength="16.62" lengthAdjust="spacingAndGlyphs">0.3</text>
<path d="M320.80 198.43h-3.5" stroke="#000" stroke-width="0.9"/>
<text x="295.88" y="202.28" font-size="11.00" textLength="16.62" lengthAdjust="spacingAndGlyphs">0.4</text>
<text x="383.78" y="345.60" font-size="11.00" textLength="59.54" lengthAdjust="spacingAndGlyphs">Radius (au)</text>
<text transform="translate(288.10 249.40) rotate(-90)" x="-40.90" y="0" font-size="11.00" textLength="81.80" lengthAdjust="spacingAndGlyphs"><tspan font-style="italic">I</tspan><tspan font-style="italic" font-size="7.6" dy="1.6">ν</tspan><tspan dy="-1.6"> (mJy beam</tspan><tspan font-size="7.6" dy="-4.2">−1</tspan><tspan dy="4.2">)</tspan></text>
<text x="392.65" y="201.10" font-size="11.00" textLength="40.30" lengthAdjust="spacingAndGlyphs">2.1 mm</text>
<text x="399.80" y="230.40" font-size="11.00" textLength="46.54" lengthAdjust="spacingAndGlyphs">Shoulder</text>
<path d="M398.1 233.7L385.6 239.3" stroke="#000" stroke-width="2.0" stroke-linecap="round"/>
<path d="M379.7 241.8L384.4 236.4L386.9 241.9Z" fill="#000" stroke="#000" stroke-width="0.6" stroke-linejoin="miter"/>
</svg></body></html>
